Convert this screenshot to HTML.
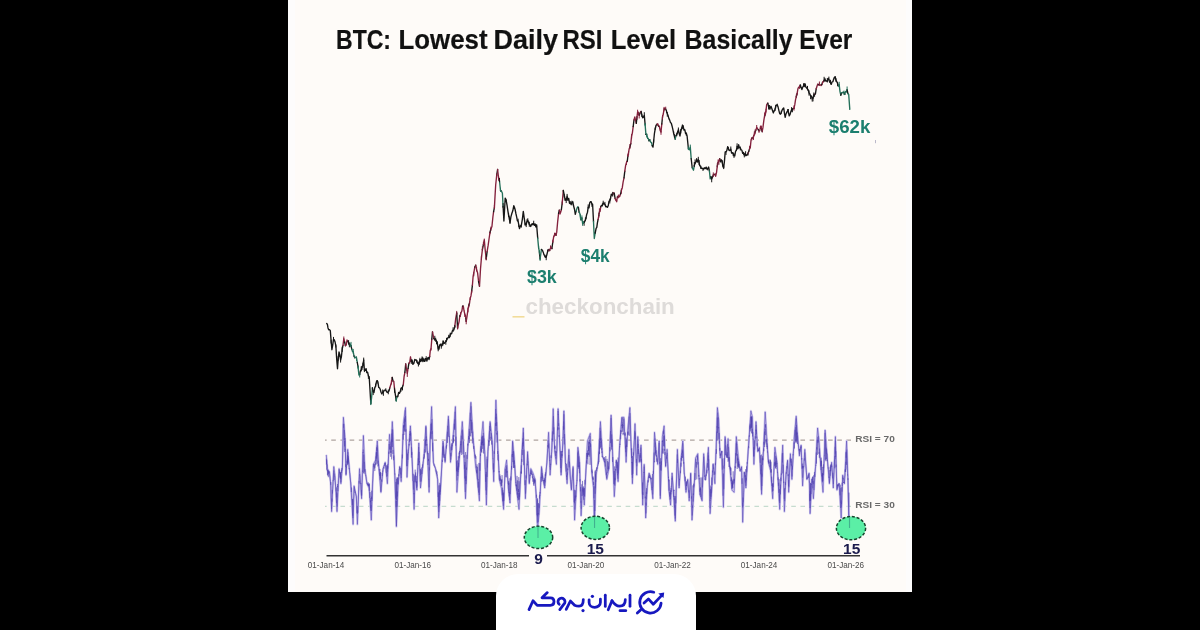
<!DOCTYPE html>
<html><head><meta charset="utf-8"><style>
html,body{margin:0;padding:0;background:#000;}
body{width:1200px;height:630px;overflow:hidden;position:relative;font-family:"Liberation Sans", sans-serif;}
svg{position:absolute;left:0;top:0;filter:blur(0.42px);}
</style></head><body>
<svg width="1200" height="630" viewBox="0 0 1200 630" font-family='"Liberation Sans", sans-serif'>
<rect x="0" y="0" width="1200" height="630" fill="#000"/>
<rect x="288" y="0" width="624" height="592" fill="#fdfcfc"/>
<rect x="295" y="0" width="611" height="592" fill="#fefbf8"/>
<rect x="496" y="574" width="200" height="90" rx="22" ry="22" fill="#ffffff"/>
<rect x="875" y="140" width="0.9" height="3.2" fill="#b4b2c4"/>
<g font-size="27.5" font-weight="bold" fill="#111" stroke="#111" stroke-width="0.2">
<text x="336" y="48.9" textLength="55" lengthAdjust="spacingAndGlyphs">BTC:</text>
<text x="398.5" y="48.9" textLength="89" lengthAdjust="spacingAndGlyphs">Lowest</text>
<text x="493.5" y="48.9" textLength="64.5" lengthAdjust="spacingAndGlyphs">Daily</text>
<text x="562.5" y="48.9" textLength="40" lengthAdjust="spacingAndGlyphs">RSI</text>
<text x="610.7" y="48.9" textLength="65.5" lengthAdjust="spacingAndGlyphs">Level</text>
<text x="684.6" y="48.9" textLength="108" lengthAdjust="spacingAndGlyphs">Basically</text>
<text x="799.3" y="48.9" textLength="53" lengthAdjust="spacingAndGlyphs">Ever</text>
</g>
<!-- watermark -->
<rect x="512.5" y="316" width="12" height="1.6" fill="#f2dc9a"/>
<text x="525.5" y="314" font-size="22.5" font-weight="bold" fill="#dedbd9" textLength="149.3" lengthAdjust="spacingAndGlyphs">checkonchain</text>
<!-- price line -->
<g fill="none" stroke-width="1.35" stroke-linejoin="round" stroke-linecap="round"><polyline points="326.7,323.5 327.4,324.4 328.0,327.9 328.7,329.8 329.5,329.6 330.3,330.6 331.1,340.6 331.9,349.7 332.7,345.1 333.5,339.4 334.3,339.9 335.1,342.0 335.9,346.5 336.7,359.1 337.5,368.7 338.2,359.3 339.0,352.0 339.8,354.8 340.6,360.0 341.4,356.8 342.2,349.2 343.0,345.4" stroke="#161616"/><polyline points="343.0,345.4 343.8,338.6 344.6,342.0" stroke="#84203c"/><polyline points="344.6,342.0 345.4,345.7" stroke="#161616"/><polyline points="345.4,345.7 346.2,344.7 347.0,341.0 347.8,341.0" stroke="#84203c"/><polyline points="347.8,341.0 348.6,342.8 349.4,345.0 350.2,344.6" stroke="#161616"/><polyline points="350.2,344.6 351.0,345.7" stroke="#24705a"/><polyline points="351.0,345.7 351.8,349.3" stroke="#161616"/><polyline points="351.8,349.3 352.5,351.6 353.2,351.5 354.0,356.0" stroke="#24705a"/><polyline points="354.0,356.0 354.8,357.7" stroke="#161616"/><polyline points="354.8,357.7 355.7,357.5 356.5,357.6 357.3,362.5" stroke="#24705a"/><polyline points="357.3,362.5 358.1,367.1" stroke="#161616"/><polyline points="358.1,367.1 358.9,375.0 359.7,374.6" stroke="#24705a"/><polyline points="359.7,374.6 360.4,370.9 361.2,370.0 362.0,367.0 362.9,365.2 363.7,360.0 364.4,370.3 365.2,370.4 366.0,368.7 366.8,372.6 367.6,372.2 368.4,376.0 369.2,376.7 370.0,390.0 370.8,403.7" stroke="#161616"/><polyline points="370.8,403.7 371.6,397.7 372.4,387.8" stroke="#24705a"/><polyline points="372.4,387.8 373.2,391.8 374.0,392.5 374.8,387.6 375.6,386.2 376.4,381.8 377.1,380.6 377.9,381.8 378.7,387.4 379.5,387.8 380.3,389.6 381.1,392.5 381.9,394.0 382.7,392.1 383.4,392.0 384.2,390.5 385.0,390.0 385.8,390.2 386.7,392.0 387.5,392.5 388.3,391.3 389.0,391.1 389.8,387.8" stroke="#161616"/><polyline points="389.8,387.8 390.6,385.2 391.4,382.8 392.2,377.5" stroke="#84203c"/><polyline points="392.2,377.5 393.0,381.0" stroke="#161616"/><polyline points="393.0,381.0 393.8,381.4 394.6,389.9" stroke="#84203c"/><polyline points="394.6,389.9 395.4,394.9 396.2,400.5" stroke="#161616"/><polyline points="396.2,400.5 397.0,396.4" stroke="#24705a"/><polyline points="397.0,396.4 397.8,396.8 398.6,392.5 399.4,393.4 400.1,391.9 400.9,389.3 401.7,387.8 402.5,387.1 403.3,384.6" stroke="#161616"/><polyline points="403.3,384.6 404.1,376.5 404.9,372.3" stroke="#84203c"/><polyline points="404.9,372.3 405.7,364.0" stroke="#161616"/><polyline points="405.7,364.0 406.5,369.1 407.3,373.5 408.1,368.4" stroke="#84203c"/><polyline points="408.1,368.4 408.9,363.2" stroke="#161616"/><polyline points="408.9,363.2 409.7,362.5 410.5,356.8 411.3,361.5" stroke="#84203c"/><polyline points="411.3,361.5 412.1,360.0 412.9,364.3 413.9,363.2 414.8,359.5 415.5,360.1 416.2,359.9 416.9,361.4 417.6,363.3 418.4,363.9 419.1,363.8 419.9,359.6 420.6,361.6 421.4,360.5 422.1,358.2 422.8,360.9 423.5,358.9 424.1,361.1 424.8,361.3 425.5,358.9 426.2,358.6 426.9,361.0 427.6,358.2 428.3,357.4 429.0,359.5 429.7,356.4" stroke="#161616"/><polyline points="429.7,356.4 430.3,350.4 431.0,349.0 431.8,339.1" stroke="#84203c"/><polyline points="431.8,339.1 432.5,331.9" stroke="#161616"/><polyline points="432.5,331.9 433.1,334.8 433.8,338.6" stroke="#84203c"/><polyline points="433.8,338.6 434.8,339.5 435.7,339.5 436.5,341.2 437.4,343.8 438.2,349.0 439.0,349.1 439.7,345.0 440.5,344.3 441.3,346.1 442.0,345.6 442.8,343.2 443.5,343.3 444.3,343.3 445.0,342.2 445.8,341.7 446.5,340.3 447.3,339.0 448.0,337.6 448.7,337.2 449.4,337.6 450.2,334.8 450.9,333.5 451.6,333.8 452.4,330.7 453.1,330.1 453.8,330.0 454.8,326.4" stroke="#161616"/><polyline points="454.8,326.4 455.7,318.6 456.7,312.9" stroke="#84203c"/><polyline points="456.7,312.9 457.6,328.0" stroke="#161616"/><polyline points="457.6,328.0 458.3,324.8 459.1,321.6 459.8,316.0" stroke="#84203c"/><polyline points="459.8,316.0 460.5,314.8" stroke="#161616"/><polyline points="460.5,314.8 461.2,312.3 461.9,310.9 462.6,306.2" stroke="#84203c"/><polyline points="462.6,306.2 463.3,306.2" stroke="#161616"/><polyline points="463.3,306.2 464.0,310.5 464.8,314.4 465.5,315.7" stroke="#84203c"/><polyline points="465.5,315.7 466.2,321.4" stroke="#161616"/><polyline points="466.2,321.4 467.1,315.8 468.0,309.0 468.8,305.5" stroke="#84203c"/><polyline points="468.8,305.5 469.5,303.1" stroke="#161616"/><polyline points="469.5,303.1 470.2,298.4 471.0,295.7 471.7,290.9" stroke="#84203c"/><polyline points="471.7,290.9 472.4,285.3" stroke="#161616"/><polyline points="472.4,285.3 473.1,276.5 473.8,272.9 474.8,267.1" stroke="#84203c"/><polyline points="474.8,267.1 475.7,265.2" stroke="#161616"/><polyline points="475.7,265.2 476.6,269.8 477.6,272.9 478.6,281.6" stroke="#84203c"/><polyline points="478.6,281.6 479.5,286.2" stroke="#161616"/><polyline points="479.5,286.2 480.5,269.0 481.4,258.2 482.4,249.5" stroke="#84203c"/><polyline points="482.4,249.5 483.4,244.6" stroke="#161616"/><polyline points="483.4,244.6 484.3,240.0 485.2,249.9 486.2,259.0" stroke="#84203c"/><polyline points="486.2,259.0 487.1,251.6" stroke="#161616"/><polyline points="487.1,251.6 488.1,245.7 489.1,238.5 490.0,232.4" stroke="#84203c"/><polyline points="490.0,232.4 490.9,228.7" stroke="#161616"/><polyline points="490.9,228.7 491.9,226.7 492.9,217.0 493.6,211.7" stroke="#84203c"/><polyline points="493.6,211.7 494.4,207.6" stroke="#161616"/><polyline points="494.4,207.6 495.0,196.6 495.7,184.8 496.7,175.2" stroke="#84203c"/><polyline points="496.7,175.2 497.6,169.5" stroke="#161616"/><polyline points="497.6,169.5 498.6,178.1" stroke="#84203c"/><polyline points="498.6,178.1 499.5,181.0" stroke="#161616"/><polyline points="499.5,181.0 500.5,190.5" stroke="#24705a"/><polyline points="500.5,190.5 501.4,191.0" stroke="#161616"/><polyline points="501.4,191.0 502.4,193.3 503.1,206.6" stroke="#24705a"/><polyline points="503.1,206.6 503.9,221.0 504.5,210.7 505.2,198.1 506.1,199.8 507.1,205.7 507.8,210.3 508.6,215.3 509.3,217.8 510.0,222.9 510.9,216.9 511.9,213.3 512.8,210.8 513.8,205.7 514.5,207.4 515.2,210.0 516.0,214.0 516.7,217.1 517.4,220.8 518.1,221.1 518.8,224.9 519.5,228.6 520.5,226.0 521.4,224.8 522.3,219.6 523.3,211.4 524.2,217.8 525.2,224.8 526.2,224.5 527.1,221.0 527.8,220.5 528.5,222.2 529.3,224.5 530.0,224.8 530.7,226.5 531.5,224.6 532.2,223.6 532.9,224.8 533.7,223.3 534.4,225.3 535.2,224.0 535.9,226.9 536.7,225.7 537.7,238.1" stroke="#161616"/><polyline points="537.7,238.1 538.6,247.6 539.4,251.9" stroke="#24705a"/><polyline points="539.4,251.9 540.1,259.0" stroke="#161616"/><polyline points="540.1,259.0 541.4,249.5" stroke="#24705a"/><polyline points="541.4,249.5 542.3,250.0 543.3,252.4 544.0,254.9 544.8,255.4 545.5,257.3 546.2,257.1 546.9,254.5 547.6,251.7 548.3,250.5" stroke="#161616"/><polyline points="548.3,250.5 549.0,249.5" stroke="#84203c"/><polyline points="549.0,249.5 549.7,250.6" stroke="#161616"/><polyline points="549.7,250.6 550.5,248.0 551.2,248.1 551.9,248.6" stroke="#84203c"/><polyline points="551.9,248.6 552.8,242.0" stroke="#161616"/><polyline points="552.8,242.0 553.8,236.2 554.5,234.9 555.2,233.9" stroke="#84203c"/><polyline points="555.2,233.9 556.0,235.2" stroke="#161616"/><polyline points="556.0,235.2 556.7,232.4 557.7,221.3 558.6,213.3" stroke="#84203c"/><polyline points="558.6,213.3 559.3,210.2" stroke="#161616"/><polyline points="559.3,210.2 560.0,213.4 560.7,212.1 561.4,209.5" stroke="#84203c"/><polyline points="561.4,209.5 562.3,202.1" stroke="#161616"/><polyline points="562.3,202.1 563.3,190.5" stroke="#84203c"/><polyline points="563.3,190.5 564.2,195.0 565.2,200.0 566.2,200.1 567.1,196.2 567.9,199.8 568.7,198.4 569.4,202.4 570.2,203.0 571.1,204.0 571.9,202.9 572.8,201.7 573.6,206.0 574.5,209.2 575.3,214.4 576.1,211.2" stroke="#161616"/><polyline points="576.1,211.2 577.0,208.1 577.8,206.8 578.4,207.4" stroke="#24705a"/><polyline points="578.4,207.4 579.1,212.2" stroke="#161616"/><polyline points="579.1,212.2 579.8,213.4 580.4,216.9 581.1,219.8" stroke="#24705a"/><polyline points="581.1,219.8 581.9,218.0" stroke="#161616"/><polyline points="581.9,218.0 582.6,223.4 583.4,223.2 584.1,222.3" stroke="#24705a"/><polyline points="584.1,222.3 584.7,221.5 585.4,219.7 586.0,217.9 586.7,214.4 587.5,212.2 588.2,207.2 589.0,207.9 589.7,202.8 590.5,201.7 591.2,201.7 591.9,204.1 592.6,204.2 593.5,221.5" stroke="#161616"/><polyline points="593.5,221.5 594.3,238.5 595.2,233.0" stroke="#24705a"/><polyline points="595.2,233.0 596.1,228.3 596.8,227.3 597.4,222.9 598.1,219.4" stroke="#161616"/><polyline points="598.1,219.4 598.8,215.6" stroke="#84203c"/><polyline points="598.8,215.6 599.4,212.0" stroke="#161616"/><polyline points="599.4,212.0 600.1,211.5 600.7,206.8" stroke="#84203c"/><polyline points="600.7,206.8 601.5,205.4 602.4,205.5 603.2,203.0 604.1,203.6 604.9,204.2 605.8,206.8 606.6,206.5 607.5,207.3 608.3,205.5 609.0,201.2 609.8,201.1 610.5,198.8 611.3,194.1 612.0,195.0 612.7,194.7" stroke="#161616"/><polyline points="612.7,194.7 613.4,192.8 614.2,193.2" stroke="#84203c"/><polyline points="614.2,193.2 615.1,198.4" stroke="#161616"/><polyline points="615.1,198.4 615.9,200.4 616.7,201.2 617.4,196.9" stroke="#84203c"/><polyline points="617.4,196.9 618.2,197.1" stroke="#161616"/><polyline points="618.2,197.1 618.9,196.3 619.7,196.6 620.6,193.8" stroke="#84203c"/><polyline points="620.6,193.8 621.4,190.3" stroke="#161616"/><polyline points="621.4,190.3 622.3,187.7 623.1,182.1 624.0,177.9" stroke="#84203c"/><polyline points="624.0,177.9 624.8,171.2" stroke="#161616"/><polyline points="624.8,171.2 625.6,165.6 626.5,162.5 627.3,161.1" stroke="#84203c"/><polyline points="627.3,161.1 627.9,156.0" stroke="#161616"/><polyline points="627.9,156.0 628.6,152.4 629.2,148.7 629.9,147.1" stroke="#84203c"/><polyline points="629.9,147.1 630.8,143.6" stroke="#161616"/><polyline points="630.8,143.6 631.6,136.0 632.4,132.8 633.2,126.5" stroke="#84203c"/><polyline points="633.2,126.5 634.0,119.9" stroke="#161616"/><polyline points="634.0,119.9 634.8,117.0 635.5,120.2 636.3,123.3" stroke="#84203c"/><polyline points="636.3,123.3 637.0,116.9" stroke="#161616"/><polyline points="637.0,116.9 637.6,112.2 638.4,113.0 639.2,115.4" stroke="#84203c"/><polyline points="639.2,115.4 640.2,112.7" stroke="#161616"/><polyline points="640.2,112.7 641.1,111.4" stroke="#84203c"/><polyline points="641.1,111.4 641.9,115.2 642.7,117.8 643.5,117.0 644.3,115.4 645.1,124.3" stroke="#161616"/><polyline points="645.1,124.3 645.9,134.4" stroke="#24705a"/><polyline points="645.9,134.4 646.7,134.6" stroke="#161616"/><polyline points="646.7,134.6 647.5,137.6 648.2,138.4 649.0,140.8" stroke="#24705a"/><polyline points="649.0,140.8 649.8,139.7" stroke="#161616"/><polyline points="649.8,139.7 650.6,142.1 651.4,142.4 652.2,145.7" stroke="#24705a"/><polyline points="652.2,145.7 653.0,147.1 653.7,140.8 654.4,133.7 655.1,129.7 656.0,125.5 657.0,124.1" stroke="#161616"/><polyline points="657.0,124.1 657.8,124.3 658.6,126.2" stroke="#84203c"/><polyline points="658.6,126.2 659.4,126.5" stroke="#161616"/><polyline points="659.4,126.5 660.2,130.5 661.0,132.1 661.8,124.0" stroke="#84203c"/><polyline points="661.8,124.0 662.5,117.0" stroke="#161616"/><polyline points="662.5,117.0 663.3,114.0 664.1,108.3 664.9,109.2" stroke="#84203c"/><polyline points="664.9,109.2 665.7,109.0 666.5,111.1 667.3,113.8 668.1,115.6 668.9,118.6 669.7,120.1 670.5,122.6 671.3,123.3 672.1,126.2 672.9,129.7 673.7,133.7 674.4,135.9 675.2,139.2" stroke="#161616"/><polyline points="675.2,139.2 676.0,135.7" stroke="#24705a"/><polyline points="676.0,135.7 676.8,134.4 677.6,132.2 678.4,129.7 679.2,133.7 680.0,136.0 680.8,130.7 681.6,128.8 682.4,125.7 683.2,126.7 684.0,130.0 684.8,129.7 685.6,133.7 686.3,133.3 687.1,136.0 688.4,148.7" stroke="#161616"/><polyline points="688.4,148.7 689.3,149.7 690.3,147.1 691.2,158.7" stroke="#24705a"/><polyline points="691.2,158.7 692.2,167.8" stroke="#161616"/><polyline points="692.2,167.8 693.5,170.2 694.3,165.6" stroke="#24705a"/><polyline points="694.3,165.6 695.1,163.0 695.9,162.0 696.7,159.7 697.5,162.0 698.3,159.8 699.1,162.6 699.8,165.8 700.6,166.2 701.4,168.3 702.2,168.5 703.0,168.6 703.8,169.2 704.6,167.8 705.4,168.6 706.2,167.1 707.0,169.4 707.8,168.6 708.6,167.0 709.4,170.8" stroke="#161616"/><polyline points="709.4,170.8 710.2,178.9 711.0,176.8" stroke="#24705a"/><polyline points="711.0,176.8 711.7,179.0 712.5,177.3 713.3,174.9" stroke="#161616"/><polyline points="713.3,174.9 714.1,174.7" stroke="#84203c"/><polyline points="714.1,174.7 714.9,174.3" stroke="#161616"/><polyline points="714.9,174.3 715.7,175.7 716.5,172.6 717.3,166.2" stroke="#84203c"/><polyline points="717.3,166.2 718.1,162.4" stroke="#161616"/><polyline points="718.1,162.4 718.9,161.4 719.7,158.8" stroke="#84203c"/><polyline points="719.7,158.8 720.5,161.8 721.3,159.8 722.1,160.8 722.9,166.6 723.7,167.8 724.5,160.6 725.2,151.9 726.0,151.8 726.8,150.7 727.6,147.1 728.4,148.5 729.2,150.5 730.0,150.3 730.8,149.1 731.6,153.1 732.4,152.7 733.2,153.8 734.0,155.8 734.8,155.9 735.6,151.0 736.3,150.6 737.1,146.3 737.9,148.7 738.7,145.4 739.5,147.9 740.3,147.9 741.1,149.8 741.9,150.3 742.7,153.3 743.5,152.4 744.3,155.1 745.0,153.8 745.6,154.3 746.3,155.5 747.1,154.7 747.9,153.9" stroke="#161616"/><polyline points="747.9,153.9 748.7,151.5" stroke="#84203c"/><polyline points="748.7,151.5 749.5,149.0" stroke="#161616"/><polyline points="749.5,149.0 750.3,147.5 751.1,139.6 751.9,138.2" stroke="#84203c"/><polyline points="751.9,138.2 752.7,137.5" stroke="#161616"/><polyline points="752.7,137.5 753.5,137.2 754.3,134.2 755.1,132.1" stroke="#84203c"/><polyline points="755.1,132.1 755.9,130.1" stroke="#161616"/><polyline points="755.9,130.1 756.7,127.5 757.5,128.5 758.2,129.7" stroke="#84203c"/><polyline points="758.2,129.7 759.0,130.9" stroke="#161616"/><polyline points="759.0,130.9 759.8,130.6 760.6,126.1 761.4,128.5" stroke="#84203c"/><polyline points="761.4,128.5 762.2,131.7" stroke="#161616"/><polyline points="762.2,131.7 763.0,127.2 763.8,120.6 764.6,115.9" stroke="#84203c"/><polyline points="764.6,115.9 765.4,114.2" stroke="#161616"/><polyline points="765.4,114.2 766.0,110.3 766.7,104.7 767.8,103.1" stroke="#84203c"/><polyline points="767.8,103.1 768.6,106.6 769.4,107.9 770.2,107.9 771.0,106.3 771.8,108.5 772.5,110.4 773.3,112.6 774.1,111.1 774.9,110.1 775.7,106.3 776.5,105.0 777.3,105.1 778.1,107.1 778.9,110.6 779.7,113.7 780.5,114.2 781.3,112.3 782.1,110.2 782.9,108.8 783.7,107.9 784.5,113.6 785.2,117.4 786.0,113.9 786.8,112.1 787.6,111.0 788.4,112.1 789.2,115.8 790.0,114.6 790.8,111.8 791.6,109.8 792.4,109.4 793.2,108.7 794.0,108.3" stroke="#161616"/><polyline points="794.0,108.3 794.8,104.7 795.5,99.8 796.3,96.7" stroke="#84203c"/><polyline points="796.3,96.7 797.1,93.7" stroke="#161616"/><polyline points="797.1,93.7 797.9,88.8 798.7,87.1 799.5,87.7" stroke="#84203c"/><polyline points="799.5,87.7 800.3,84.8 801.1,87.6 801.9,89.6 802.7,87.2 803.5,85.7 804.3,85.6 805.1,84.3 805.9,87.1 806.7,88.0 807.5,89.1 808.2,89.8 809.0,92.8 809.8,93.8 810.6,96.0 811.4,96.0 812.2,98.7 813.0,98.3 813.8,94.8 814.6,94.4" stroke="#161616"/><polyline points="814.6,94.4 815.4,93.8" stroke="#84203c"/><polyline points="815.4,93.8 816.2,88.8" stroke="#161616"/><polyline points="816.2,88.8 817.0,86.3 817.8,84.0 818.6,84.7" stroke="#84203c"/><polyline points="818.6,84.7 819.4,84.4" stroke="#161616"/><polyline points="819.4,84.4 820.2,84.8 821.0,85.5 821.7,84.7" stroke="#84203c"/><polyline points="821.7,84.7 822.5,82.5" stroke="#161616"/><polyline points="822.5,82.5 823.3,81.7 824.1,80.3" stroke="#84203c"/><polyline points="824.1,80.3 824.9,79.3 825.7,81.1 826.5,80.9 827.3,81.3 828.1,78.5 828.9,79.4 829.7,82.2 830.5,82.5 831.3,84.3 832.1,81.8 832.9,81.7 833.7,78.9 834.4,77.3 835.2,76.9 836.0,80.3 836.8,81.7 837.6,83.5 838.4,85.8" stroke="#161616"/><polyline points="838.4,85.8 839.2,84.8 840.0,91.6 840.8,95.2" stroke="#24705a"/><polyline points="840.8,95.2 841.6,92.9" stroke="#161616"/><polyline points="841.6,92.9 842.4,92.8 843.2,92.0 844.0,92.8" stroke="#24705a"/><polyline points="844.0,92.8 844.8,94.4" stroke="#161616"/><polyline points="844.8,94.4 845.6,91.4 846.3,92.1 847.1,89.6" stroke="#24705a"/><polyline points="847.1,89.6 847.9,93.6" stroke="#161616"/><polyline points="847.9,93.6 848.7,94.4 849.8,109.4" stroke="#24705a"/><path d="M331.1 340.2v2.9M333.5 337.3v2.9M335.9 344.9v2.2M338.2 356.5v3.9M339.8 355.0v1.5M340.6 360.1v2.1M342.2 347.1v4.4M348.6 340.6v3.5M349.4 342.9v4.0M361.2 366.8v4.3M362.0 366.3v3.3M362.9 363.1v4.3M363.7 358.0v2.5M364.4 369.8v1.9M366.0 369.0v1.6M368.4 375.2v3.3M373.2 391.0v3.7M375.6 384.0v2.8M377.1 380.4v2.9M382.7 389.9v2.7M383.4 390.9v4.5M385.8 388.7v1.8M388.3 390.0v3.9M394.6 388.1v4.3M400.9 388.1v3.4M402.5 386.0v4.0M411.3 359.7v3.8M416.9 360.3v2.0M418.4 362.5v3.6M419.1 361.7v2.9M419.9 358.2v1.9M420.6 359.4v2.1M422.1 356.8v3.3M422.8 357.6v4.2M424.1 358.8v2.7M425.5 358.4v1.6M426.2 356.6v3.1M434.8 336.2v4.2M435.7 338.2v3.2M436.5 340.4v3.4M437.4 341.8v2.8M438.2 346.5v4.4M441.3 343.9v4.4M442.8 340.9v4.5M443.5 341.0v2.9M445.8 340.5v3.8M446.5 338.2v3.1M448.7 335.2v2.3M450.2 333.1v3.3M453.1 327.7v3.8M454.8 325.3v2.4M499.5 178.3v3.5M503.1 203.5v3.9M504.5 210.9v2.0M506.1 200.0v1.8M508.6 213.3v3.4M509.3 216.8v2.5M510.0 220.7v2.7M518.1 219.1v1.8M518.8 225.1v1.6M521.4 224.3v2.9M525.2 223.0v2.0M526.2 224.0v2.7M527.1 219.3v2.3M527.8 218.7v2.4M529.3 222.1v4.3M533.7 221.1v3.5M535.9 224.7v2.1M536.7 224.6v1.7M544.8 255.2v1.7M546.2 256.7v3.1M547.6 249.8v1.8M564.2 194.3v2.8M565.2 198.6v1.8M566.2 198.9v3.8M567.1 194.3v1.9M567.9 198.7v1.8M569.4 202.0v1.7M570.2 201.4v2.1M571.1 203.0v1.8M571.9 201.1v3.8M584.1 221.3v4.1M585.4 217.9v2.8M586.0 217.4v1.5M588.2 204.8v3.1M591.9 203.9v2.5M602.4 203.9v2.1M603.2 201.1v3.2M604.9 202.3v2.6M609.8 199.1v4.0M610.5 196.8v2.0M612.7 192.3v3.9M641.9 114.8v1.8M644.3 112.6v4.2M653.7 139.9v2.3M655.1 128.0v1.6M666.5 110.4v2.0M667.3 112.5v3.8M673.7 131.8v1.8M674.4 134.5v2.6M676.8 133.1v2.7M677.6 131.5v1.9M678.4 127.9v3.6M680.8 129.3v3.8M681.6 127.8v1.9M682.4 124.8v3.7M683.2 125.5v2.4M686.3 132.9v2.5M694.3 162.4v4.3M695.1 159.8v3.9M696.7 158.4v1.5M698.3 157.2v3.1M699.1 160.3v4.4M700.6 166.1v2.3M703.0 167.9v2.7M707.8 168.4v1.6M711.7 177.4v4.5M722.1 160.7v2.2M723.7 166.6v2.1M724.5 158.4v3.8M726.0 151.4v3.1M727.6 146.5v1.8M728.4 147.2v2.6M730.8 146.9v3.2M733.2 152.8v2.9M734.0 153.7v3.8M737.1 143.7v3.0M737.9 146.3v2.5M738.7 144.4v2.9M740.3 146.9v3.1M743.5 152.4v2.0M744.3 154.2v2.8M745.6 151.6v4.3M747.9 152.7v2.6M768.6 105.7v3.4M769.4 105.4v3.8M770.2 107.7v1.5M773.3 111.0v2.1M774.9 108.9v1.8M775.7 105.2v2.8M777.3 104.1v1.9M781.3 111.1v2.3M787.6 109.5v1.8M788.4 109.4v4.2M791.6 107.5v3.8M792.4 108.5v3.4M803.5 83.7v2.7M804.3 83.5v3.2M805.1 83.8v3.0M807.5 86.3v3.8M809.0 90.7v4.5M810.6 95.6v3.2M812.2 98.2v3.0M813.0 97.6v3.4M813.8 92.9v3.9M814.6 94.6v1.7M824.1 77.2v4.5M824.9 78.3v1.8M827.3 78.5v3.6M828.9 77.0v2.6M830.5 80.2v3.8M835.2 76.6v2.5M836.0 78.7v2.8M837.6 82.4v3.5" stroke="#161616" stroke-width="1"/><path d="M343.8 336.9v4.3M346.2 342.7v2.6M347.0 339.7v1.7M391.4 380.5v3.6M407.3 372.5v4.0M431.0 348.3v1.9M456.7 311.3v3.7M457.6 326.8v2.3M460.5 312.7v3.8M464.8 313.9v2.7M465.5 315.3v2.4M466.2 319.9v4.0M468.0 308.1v3.8M468.8 304.2v2.9M470.2 297.6v2.0M471.7 290.6v2.2M473.8 272.2v3.7M476.6 267.1v4.0M480.5 268.8v2.4M481.4 256.3v3.3M482.4 246.7v3.4M483.4 242.2v2.6M484.3 239.0v3.2M486.2 257.2v2.8M490.0 232.0v1.7M490.9 227.0v3.4M494.4 205.4v3.2M496.7 173.8v2.2M498.6 176.7v3.6M550.5 245.8v2.2M551.2 246.7v1.7M552.8 240.1v1.7M554.5 233.1v3.0M556.0 233.0v2.4M560.0 212.7v1.6M562.3 201.0v3.4M598.8 213.4v3.9M599.4 208.7v4.4M616.7 200.5v1.5M618.2 195.3v2.7M618.9 194.8v2.4M621.4 188.9v4.4M626.5 161.3v3.3M627.9 154.1v1.7M628.6 151.5v3.2M629.9 144.4v4.3M631.6 134.5v3.8M637.0 116.4v3.1M637.6 110.1v4.4M638.4 112.0v1.5M639.2 114.6v3.5M657.8 123.5v2.1M661.0 131.4v3.0M662.5 115.3v4.1M664.1 107.3v3.6M665.7 107.1v2.1M713.3 172.8v3.8M715.7 173.8v2.8M717.3 163.5v3.5M718.1 159.9v2.9M718.9 160.2v4.2M719.7 158.8v1.6M749.5 146.5v2.9M750.3 145.4v2.5M751.9 137.7v2.3M753.5 135.5v4.0M754.3 131.9v3.4M755.1 129.9v4.1M756.7 125.4v1.9M759.0 130.9v1.6M761.4 126.0v3.3M764.6 112.8v4.3M765.4 111.4v3.6M766.0 109.2v2.9M794.0 105.8v4.4M796.3 94.9v2.7M797.1 93.3v1.7M799.5 85.7v2.4M819.4 81.9v3.7M822.5 81.9v2.1" stroke="#84203c" stroke-width="1"/><path d="M350.2 343.6v2.9M351.0 342.3v4.4M353.2 349.3v3.9M354.8 356.1v1.6M356.5 356.7v3.8M358.1 365.9v2.6M359.7 373.4v3.7M370.8 400.5v4.2M396.2 398.3v3.1M500.5 188.2v3.3M538.6 246.3v2.4M539.4 250.6v3.7M540.1 258.3v2.2M580.4 214.6v3.9M581.1 218.2v1.7M581.9 215.8v3.5M582.6 221.6v3.8M583.4 221.5v1.7M645.1 123.4v2.3M646.7 133.6v3.4M647.5 136.9v1.7M688.4 146.7v2.8M690.3 145.0v2.3M839.2 82.2v4.3M844.0 91.0v3.7M847.1 86.9v3.0" stroke="#24705a" stroke-width="1"/></g>
<!-- annotations -->
<g font-size="18" font-weight="bold" fill="#1c7f6f">
<text x="527" y="282.5" textLength="29.7" lengthAdjust="spacingAndGlyphs">$3k</text>
<text x="580.8" y="262" textLength="28.8" lengthAdjust="spacingAndGlyphs">$4k</text>
<text x="828.8" y="133.3" font-size="18.5" textLength="41.5" lengthAdjust="spacingAndGlyphs">$62k</text>
</g>
<!-- RSI guide lines -->
<line x1="325" y1="440.2" x2="851" y2="440.2" stroke="#aea49f" stroke-width="1.2" stroke-dasharray="4.6,4.6" stroke-dashoffset="2.95"/>
<line x1="325" y1="506.4" x2="851" y2="506.4" stroke="#c6dccf" stroke-width="1.2" stroke-dasharray="4.6,4.6" stroke-dashoffset="2.95"/>
<g fill="none" stroke="#5949c6" stroke-width="1.0" stroke-linejoin="round"><polyline points="326.3,454.8 327.4,468.7 329.5,472.0 330.6,483.7 331.6,511.6 333.8,466.6 334.9,475.1 337.0,511.6 339.1,468.7 340.9,483.7 342.4,466.6 343.4,417.3 345.1,438.7 346.0,475.1 347.7,449.4 349.4,468.7 350.9,485.9 353.1,524.4 354.1,485.9 356.3,496.6 357.4,524.4 359.5,468.7 361.6,498.7 363.4,435.5 364.9,468.7 367.0,483.7 369.1,488.0 371.3,520.1 373.4,464.4 375.6,460.1 377.3,440.9 378.8,466.6 380.9,492.3 383.1,468.7 385.2,462.3 387.4,483.7 389.5,434.4 391.0,449.4 392.3,421.6 393.8,451.6 394.9,479.4 396.4,526.6 398.0,488.0 399.7,466.6 401.2,481.6 403.4,423.7 405.5,407.6 407.0,477.3 408.7,447.3 410.4,425.9 411.9,453.7 414.1,509.4 415.1,475.1 416.9,490.1 418.8,443.0 420.5,488.0 422.6,468.7 424.1,453.7 425.9,425.9 427.6,458.0 429.1,492.3 430.1,440.9 431.6,406.6 433.4,462.3 435.5,468.7 437.6,479.4 438.7,518.0 440.9,483.7 443.0,440.9 445.1,462.3 446.9,436.6 448.4,416.2 450.5,462.3 452.6,443.0 455.4,406.6 456.9,492.3 459.1,462.3 462.3,421.6 463.4,440.9 465.5,498.7 467.6,451.6 470.9,402.3 473.0,436.6 475.7,466.6 477.2,477.3 479.4,500.9 480.4,451.6 483.0,421.6 484.7,451.6 486.4,505.1 487.9,451.6 490.1,421.6 492.2,440.9 493.7,481.6 495.9,400.1 497.6,440.9 499.3,479.4 501.4,488.0 503.6,509.4 505.1,468.7 506.6,460.1 508.3,488.0 510.0,503.0 512.6,440.9 514.3,458.0 515.8,483.7 519.0,509.4 520.7,475.1 523.3,428.0 525.4,498.7 527.6,451.6 529.3,483.7 530.8,468.7 532.9,473.0 535.1,479.4 536.1,494.4 537.6,530.4 539.4,509.4 541.5,466.6 543.0,479.4 544.7,488.0 546.9,462.3 548.6,432.3 550.1,475.1 551.7,451.6 553.2,408.7 554.7,451.6 556.4,464.4 558.1,408.7 559.6,440.9 561.1,475.1 562.9,440.9 563.9,410.9 565.4,462.3 567.1,483.7 568.9,449.4 570.4,479.4 571.4,490.1 573.1,466.6 574.6,520.1 576.8,481.6 577.9,447.3 579.6,462.3 581.1,515.8 582.6,488.0 584.3,505.1 586.0,468.7 587.5,440.9 590.3,433.4 591.8,473.0 593.5,488.0 594.4,527.6 596.1,475.1 598.2,462.3 600.4,421.6 602.5,455.9 604.6,462.3 606.8,479.4 608.9,468.7 611.1,415.1 612.6,451.6 614.3,496.6 616.4,462.3 618.1,481.6 619.6,445.1 621.8,417.3 623.9,417.3 626.1,462.3 627.7,430.1 629.9,407.6 631.4,453.7 632.4,483.7 635.0,423.7 636.7,475.1 637.8,436.6 639.3,462.3 641.0,445.1 642.7,505.1 644.2,464.4 645.7,518.0 647.4,483.7 649.1,473.0 650.6,477.3 652.8,498.7 654.5,432.3 656.0,449.4 657.7,464.4 659.2,440.9 660.3,498.7 662.4,436.6 664.1,425.9 665.6,466.6 667.1,449.4 668.9,490.1 670.6,505.1 672.1,473.0 673.6,496.6 675.3,521.2 677.4,449.4 679.1,488.0 681.3,455.9 682.8,440.9 684.3,473.0 686.0,492.3 687.7,479.4 689.2,500.9 690.7,473.0 692.0,520.1 693.5,498.7 695.6,458.0 697.8,453.7 699.9,494.4 702.1,500.9 703.7,453.7 705.2,479.4 706.7,470.9 708.4,447.3 710.1,513.7 711.6,492.3 713.1,464.4 714.9,483.7 717.4,407.6 718.7,419.4 720.2,458.0 721.7,451.6 723.4,507.3 725.1,436.6 726.6,455.9 728.1,438.7 729.9,468.7 732.0,490.1 734.1,492.3 736.3,436.6 738.4,458.0 740.1,470.9 741.6,466.6 742.7,522.3 744.4,473.0 745.9,488.0 748.1,451.6 750.9,410.9 752.4,417.3 753.9,464.4 756.0,421.6 757.7,451.6 759.4,447.3 761.6,494.4 763.1,458.0 765.2,411.9 766.7,436.6 768.4,462.3 770.6,470.9 772.7,498.7 774.9,447.3 777.0,462.3 778.0,479.4 779.7,509.4 781.2,475.1 782.7,445.1 784.4,511.6 786.1,473.0 787.6,460.1 788.7,492.3 790.4,453.7 791.9,479.4 794.1,438.7 796.2,416.2 797.7,436.6 799.4,455.9 801.1,445.1 802.6,485.9 804.8,449.4 806.9,479.4 809.1,473.0 810.1,513.7 811.9,479.4 813.4,498.7 815.5,466.6 817.6,428.0 819.1,440.9 820.9,468.7 823.0,492.3 825.1,430.1 827.3,458.0 829.4,483.7 831.6,462.3 833.3,488.0 835.4,436.6 836.9,490.1 839.1,483.7 841.2,518.0 842.7,475.1 844.4,483.7 846.6,440.9 847.6,468.7 849.1,527.6" stroke="#d2ccef" stroke-width="2.2"/><polyline points="326.30,465.0 326.43,458.7 326.55,464.1 326.68,459.9 326.80,469.9 326.93,467.5 327.05,464.4 327.18,471.2 327.30,470.0 327.43,474.9 327.55,469.6 327.68,470.4 327.80,475.2 327.93,475.8 328.05,472.7 328.18,470.7 328.30,477.2 328.43,473.7 328.55,470.8 328.68,473.8 328.80,472.3 328.93,471.5 329.05,472.3 329.18,472.2 329.30,471.9 329.43,473.5 329.55,475.6 329.68,475.5 329.80,476.6 329.93,476.5 330.05,478.4 330.18,479.2 330.30,479.8 330.43,481.0 330.55,481.7 330.68,484.8 330.80,482.0 330.93,486.2 331.05,487.3 331.18,497.4 331.30,499.5 331.43,503.4 331.55,509.0 331.68,505.9 331.80,504.5 331.93,498.6 332.05,501.6 332.18,495.4 332.30,489.9 332.43,493.5 332.55,489.6 332.68,488.6 332.80,485.7 332.93,484.5 333.05,482.7 333.18,480.1 333.30,480.7 333.43,479.3 333.55,475.8 333.68,470.5 333.80,470.5 333.93,472.3 334.05,480.1 334.18,473.5 334.30,475.3 334.43,476.3 334.55,476.1 334.68,476.1 334.80,476.4 334.93,476.5 335.05,480.8 335.18,481.9 335.30,482.1 335.43,484.9 335.55,485.9 335.68,486.4 335.80,487.3 335.93,488.4 336.05,491.2 336.18,491.4 336.30,487.4 336.43,495.4 336.55,503.1 336.68,491.7 336.80,497.3 336.93,494.6 337.05,493.3 337.18,506.7 337.30,485.8 337.43,484.0 337.55,486.9 337.68,486.0 337.80,488.6 337.93,491.2 338.05,488.9 338.18,486.6 338.30,480.6 338.43,478.4 338.55,478.1 338.68,474.5 338.80,474.6 338.93,472.1 339.05,470.6 339.18,469.6 339.30,470.4 339.43,470.7 339.55,471.9 339.68,473.3 339.80,471.9 339.93,475.4 340.05,476.5 340.18,476.0 340.30,478.2 340.43,472.1 340.55,479.1 340.68,473.2 340.80,473.1 340.93,482.2 341.05,480.8 341.18,480.3 341.30,470.6 341.43,471.5 341.55,473.0 341.68,469.6 341.80,471.1 341.93,468.0 342.05,469.7 342.18,469.1 342.30,467.3 342.43,465.5 342.55,462.6 342.68,458.0 342.80,453.9 342.93,451.6 343.05,448.2 343.18,443.8 343.30,423.9 343.43,423.8 343.55,427.7 343.68,426.4 343.80,423.9 343.93,424.6 344.05,431.2 344.18,440.1 344.30,430.1 344.43,431.9 344.55,446.4 344.68,441.0 344.80,452.0 344.93,443.8 345.05,438.1 345.18,450.2 345.30,449.4 345.43,452.1 345.55,460.7 345.68,462.1 345.80,467.0 345.93,464.2 346.05,474.1 346.18,471.7 346.30,467.0 346.43,467.7 346.55,465.2 346.68,464.9 346.80,464.9 346.93,464.2 347.05,461.3 347.18,462.6 347.30,459.6 347.43,463.7 347.55,454.8 347.68,465.1 347.80,464.3 347.93,452.1 348.05,461.9 348.18,456.2 348.30,463.6 348.43,457.8 348.55,462.0 348.68,462.1 348.80,464.6 348.93,466.3 349.05,468.7 349.18,469.3 349.30,468.0 349.43,470.1 349.55,473.0 349.68,473.0 349.80,473.6 349.93,475.0 350.05,476.2 350.18,477.4 350.30,478.1 350.43,480.0 350.55,481.0 350.68,481.8 350.80,482.0 350.93,484.1 351.05,488.4 351.18,490.4 351.30,492.0 351.43,490.6 351.55,487.6 351.68,488.3 351.80,493.7 351.93,499.8 352.05,500.5 352.18,501.5 352.30,505.0 352.43,504.4 352.55,498.9 352.68,515.6 352.80,499.4 352.93,518.1 353.05,513.5 353.18,512.2 353.30,509.2 353.43,500.9 353.55,498.0 353.68,497.3 353.80,497.3 353.93,492.3 354.05,489.2 354.18,488.2 354.30,487.2 354.43,489.1 354.55,490.5 354.68,489.8 354.80,490.6 354.93,492.8 355.05,492.3 355.18,491.5 355.30,492.5 355.43,492.5 355.55,493.0 355.68,494.1 355.80,494.3 355.93,495.0 356.05,495.4 356.18,495.8 356.30,495.9 356.43,498.5 356.55,501.1 356.68,504.2 356.80,506.9 356.93,512.1 357.05,513.2 357.18,506.1 357.30,507.4 357.43,514.2 357.55,510.3 357.68,511.5 357.80,512.8 357.93,509.5 358.05,504.5 358.18,501.7 358.30,500.4 358.43,496.5 358.55,492.5 358.68,489.1 358.80,486.7 358.93,485.2 359.05,480.9 359.18,483.6 359.30,479.8 359.43,477.5 359.55,476.5 359.68,474.1 359.80,475.5 359.93,476.1 360.05,476.8 360.18,479.1 360.30,480.4 360.43,482.0 360.55,483.7 360.68,484.0 360.80,483.7 360.93,483.6 361.05,483.1 361.18,491.4 361.30,493.6 361.43,495.5 361.55,490.0 361.68,495.5 361.80,488.7 361.93,484.6 362.05,482.4 362.18,480.3 362.30,479.0 362.43,470.6 362.55,471.7 362.68,464.9 362.80,462.6 362.93,452.4 363.05,452.1 363.18,453.0 363.30,449.5 363.43,469.5 363.55,469.9 363.68,472.9 363.80,454.6 363.93,464.6 364.05,473.8 364.18,467.3 364.30,461.8 364.43,464.1 364.55,469.4 364.68,469.9 364.80,471.7 364.93,469.1 365.05,472.8 365.18,473.9 365.30,474.7 365.43,475.6 365.55,475.6 365.68,475.4 365.80,475.4 365.93,476.9 366.05,477.0 366.18,478.8 366.30,480.4 366.43,480.5 366.55,481.2 366.68,481.8 366.80,482.5 366.93,483.0 367.05,483.6 367.18,483.4 367.30,483.9 367.43,484.5 367.55,484.4 367.68,485.0 367.80,484.9 367.93,483.2 368.05,485.2 368.18,482.3 368.30,485.9 368.43,484.6 368.55,486.2 368.68,484.7 368.80,485.0 368.93,486.4 369.05,483.7 369.18,485.9 369.30,490.8 369.43,484.6 369.55,483.6 369.68,491.0 369.80,497.8 369.93,497.8 370.05,492.1 370.18,495.8 370.30,499.2 370.43,502.3 370.55,500.5 370.68,508.3 370.80,498.0 370.93,510.7 371.05,505.1 371.18,505.7 371.30,510.9 371.43,507.6 371.55,496.7 371.68,499.0 371.80,490.7 371.93,501.0 372.05,500.0 372.18,489.3 372.30,485.9 372.43,483.4 372.55,481.2 372.68,481.2 372.80,478.6 372.93,476.9 373.05,473.8 373.18,473.3 373.30,471.0 373.43,466.2 373.55,465.3 373.68,464.1 373.80,464.6 373.93,466.9 374.05,463.6 374.18,466.4 374.30,468.5 374.43,464.3 374.55,469.4 374.68,470.8 374.80,471.0 374.93,470.9 375.05,466.5 375.18,467.4 375.30,462.7 375.43,462.7 375.55,465.5 375.68,460.4 375.80,460.8 375.93,458.9 376.05,456.4 376.18,464.6 376.30,452.3 376.43,458.5 376.55,452.0 376.68,456.4 376.80,447.1 376.93,451.0 377.05,448.1 377.18,463.7 377.30,445.4 377.43,450.2 377.55,456.7 377.68,458.1 377.80,459.7 377.93,466.4 378.05,466.4 378.18,461.0 378.30,460.7 378.43,465.5 378.55,464.3 378.68,465.5 378.80,466.7 378.93,468.0 379.05,469.6 379.18,470.3 379.30,469.4 379.43,474.2 379.55,473.6 379.68,475.6 379.80,476.0 379.93,468.9 380.05,477.5 380.18,480.2 380.30,472.4 380.43,478.6 380.55,472.2 380.68,480.1 380.80,486.7 380.93,491.5 381.05,488.7 381.18,487.0 381.30,481.3 381.43,480.8 381.55,479.4 381.68,479.8 381.80,481.8 381.93,479.1 382.05,472.8 382.18,473.7 382.30,476.1 382.43,475.0 382.55,471.0 382.68,470.7 382.80,471.5 382.93,470.5 383.05,469.3 383.18,468.8 383.30,468.4 383.43,468.0 383.55,467.6 383.68,467.2 383.80,467.3 383.93,468.6 384.05,466.7 384.18,466.1 384.30,465.4 384.43,465.9 384.55,464.7 384.68,464.5 384.80,463.6 384.93,463.2 385.05,465.2 385.18,463.0 385.30,464.3 385.43,466.4 385.55,466.3 385.68,466.4 385.80,466.4 385.93,466.7 386.05,468.8 386.18,471.1 386.30,472.9 386.43,465.3 386.55,470.0 386.68,470.8 386.80,476.7 386.93,472.2 387.05,472.6 387.18,476.3 387.30,474.8 387.43,464.6 387.55,471.8 387.68,466.1 387.80,468.6 387.93,466.8 388.05,463.9 388.18,464.4 388.30,460.1 388.43,458.8 388.55,456.6 388.68,454.9 388.80,451.7 388.93,454.1 389.05,447.8 389.18,444.0 389.30,444.8 389.43,447.9 389.55,449.5 389.68,445.4 389.80,442.9 389.93,441.6 390.05,441.8 390.18,452.7 390.30,447.2 390.43,446.3 390.55,453.5 390.68,456.8 390.80,453.2 390.93,450.8 391.05,452.9 391.18,450.0 391.30,443.4 391.43,443.3 391.55,439.4 391.68,459.4 391.80,433.7 391.93,433.5 392.05,442.1 392.18,429.3 392.30,447.0 392.43,436.7 392.55,435.2 392.68,429.6 392.80,448.9 392.93,454.0 393.05,449.9 393.18,452.0 393.30,453.3 393.43,457.4 393.55,457.0 393.68,460.2 393.80,455.4 393.93,455.5 394.05,461.0 394.18,461.5 394.30,465.0 394.43,467.0 394.55,469.1 394.68,473.6 394.80,474.4 394.93,473.6 395.05,477.6 395.18,481.5 395.30,488.1 395.43,491.9 395.55,497.3 395.68,498.6 395.80,492.2 395.93,481.9 396.05,507.2 396.18,501.0 396.30,512.6 396.43,526.0 396.55,478.9 396.68,500.0 396.80,477.4 396.93,477.5 397.05,506.9 397.18,499.4 397.30,491.5 397.43,496.5 397.55,477.5 397.68,482.0 397.80,484.4 397.93,477.7 398.05,481.4 398.18,484.3 398.30,482.8 398.43,480.5 398.55,476.6 398.68,474.3 398.80,475.7 398.93,476.2 399.05,473.5 399.18,472.4 399.30,469.1 399.43,469.7 399.55,467.8 399.68,466.8 399.80,466.9 399.93,467.6 400.05,469.5 400.18,468.3 400.30,468.1 400.43,471.1 400.55,473.6 400.68,474.3 400.80,471.6 400.93,468.3 401.05,472.2 401.18,478.0 401.30,474.8 401.43,475.0 401.55,471.1 401.68,466.3 401.80,463.9 401.93,462.5 402.05,460.2 402.18,458.2 402.30,454.5 402.43,458.4 402.55,457.2 402.68,446.5 402.80,444.0 402.93,439.7 403.05,433.9 403.18,439.7 403.30,429.1 403.43,425.3 403.55,427.6 403.68,425.5 403.80,432.6 403.93,435.0 404.05,425.3 404.18,426.4 404.30,430.8 404.43,417.5 404.55,418.5 404.68,426.5 404.80,419.2 404.93,431.9 405.05,416.5 405.18,410.3 405.30,415.6 405.43,421.7 405.55,415.9 405.68,425.6 405.80,431.5 405.93,429.3 406.05,433.9 406.18,440.6 406.30,444.7 406.43,445.5 406.55,446.3 406.68,460.3 406.80,466.2 406.93,449.5 407.05,452.3 407.18,466.2 407.30,460.1 407.43,453.6 407.55,456.7 407.68,458.7 407.80,459.9 407.93,457.1 408.05,455.6 408.18,452.6 408.30,453.0 408.43,451.1 408.55,449.9 408.68,448.3 408.80,447.8 408.93,446.8 409.05,444.0 409.18,445.5 409.30,443.0 409.43,438.6 409.55,441.8 409.68,439.6 409.80,433.9 409.93,435.1 410.05,431.2 410.18,441.0 410.30,440.8 410.43,430.9 410.55,435.6 410.68,432.7 410.80,434.9 410.93,441.6 411.05,444.3 411.18,443.8 411.30,457.7 411.43,447.2 411.55,448.4 411.68,455.0 411.80,452.1 411.93,456.9 412.05,458.6 412.18,461.3 412.30,464.3 412.43,466.4 412.55,468.4 412.68,472.0 412.80,475.0 412.93,475.2 413.05,481.2 413.18,473.8 413.30,476.3 413.43,489.6 413.55,480.9 413.68,487.8 413.80,492.1 413.93,494.2 414.05,493.0 414.18,503.2 414.30,499.2 414.43,495.9 414.55,476.4 414.68,477.5 414.80,482.3 414.93,480.9 415.05,476.2 415.18,469.6 415.30,476.7 415.43,475.6 415.55,474.1 415.68,472.4 415.80,478.3 415.93,481.1 416.05,482.2 416.18,476.1 416.30,481.8 416.43,483.1 416.55,481.8 416.68,488.1 416.80,481.2 416.93,486.7 417.05,482.2 417.18,481.8 417.30,479.1 417.43,475.5 417.55,474.0 417.68,471.7 417.80,468.7 417.93,468.8 418.05,463.9 418.18,465.3 418.30,458.2 418.43,464.8 418.55,453.7 418.68,447.0 418.80,460.4 418.93,457.0 419.05,451.9 419.18,460.9 419.30,462.5 419.43,461.0 419.55,463.9 419.68,469.7 419.80,469.6 419.93,471.7 420.05,475.7 420.18,475.4 420.30,481.7 420.43,468.8 420.55,470.7 420.68,475.0 420.80,471.1 420.93,469.8 421.05,474.7 421.18,481.5 421.30,474.1 421.43,473.6 421.55,470.9 421.68,467.5 421.80,473.4 421.93,474.0 422.05,473.0 422.18,469.8 422.30,469.5 422.43,464.4 422.55,467.9 422.68,467.6 422.80,466.2 422.93,464.2 423.05,462.9 423.18,461.7 423.30,461.6 423.43,460.9 423.55,460.1 423.68,458.3 423.80,457.2 423.93,459.0 424.05,458.3 424.18,454.0 424.30,457.5 424.43,456.0 424.55,454.6 424.68,449.3 424.80,453.3 424.93,452.0 425.05,447.8 425.18,438.8 425.30,445.6 425.43,441.1 425.55,440.1 425.68,452.3 425.80,436.9 425.93,427.3 426.05,438.5 426.18,436.5 426.30,439.6 426.43,440.7 426.55,438.9 426.68,445.6 426.80,444.0 426.93,445.9 427.05,447.8 427.18,450.1 427.30,451.6 427.43,454.3 427.55,451.7 427.68,451.4 427.80,453.1 427.93,465.0 428.05,461.5 428.18,456.2 428.30,453.1 428.43,461.1 428.55,458.9 428.68,477.3 428.80,479.9 428.93,479.6 429.05,487.4 429.18,484.3 429.30,467.3 429.43,470.4 429.55,462.5 429.68,462.0 429.80,454.9 429.93,449.9 430.05,443.6 430.18,442.9 430.30,437.1 430.43,435.3 430.55,431.7 430.68,432.1 430.80,438.5 430.93,433.9 431.05,424.0 431.18,439.3 431.30,422.7 431.43,428.1 431.55,430.4 431.68,427.5 431.80,426.3 431.93,419.1 432.05,433.9 432.18,431.2 432.30,439.8 432.43,443.6 432.55,451.3 432.68,442.7 432.80,446.6 432.93,452.6 433.05,453.1 433.18,456.2 433.30,459.2 433.43,462.9 433.55,463.8 433.68,464.1 433.80,465.4 433.93,465.1 434.05,465.1 434.18,464.7 434.30,465.5 434.43,466.0 434.55,466.5 434.68,466.2 434.80,466.6 434.93,467.0 435.05,467.3 435.18,467.6 435.30,468.0 435.43,468.0 435.55,468.7 435.68,468.9 435.80,469.3 435.93,470.8 436.05,471.3 436.18,470.5 436.30,472.2 436.43,472.2 436.55,474.0 436.68,473.9 436.80,474.0 436.93,471.4 437.05,475.2 437.18,475.3 437.30,474.6 437.43,476.7 437.55,478.2 437.68,479.7 437.80,483.2 437.93,485.6 438.05,494.4 438.18,497.0 438.30,491.9 438.43,507.3 438.55,493.1 438.68,503.5 438.80,512.1 438.93,485.4 439.05,488.0 439.18,505.5 439.30,504.1 439.43,505.4 439.55,490.2 439.68,500.9 439.80,482.8 439.93,491.4 440.05,494.6 440.18,484.7 440.30,491.8 440.43,489.8 440.55,485.0 440.68,482.6 440.80,479.3 440.93,477.7 441.05,476.9 441.18,476.2 441.30,475.1 441.43,471.7 441.55,470.3 441.68,468.3 441.80,467.3 441.93,463.4 442.05,461.5 442.18,459.8 442.30,460.3 442.43,461.5 442.55,462.0 442.68,454.4 442.80,446.5 442.93,455.1 443.05,442.7 443.18,457.8 443.30,448.6 443.43,445.6 443.55,449.7 443.68,451.0 443.80,453.0 443.93,454.6 444.05,456.7 444.18,455.2 444.30,454.4 444.43,456.3 444.55,457.8 444.68,457.5 444.80,457.2 444.93,456.9 445.05,460.5 445.18,461.2 445.30,458.2 445.43,456.8 445.55,453.9 445.68,453.9 445.80,452.3 445.93,451.0 446.05,449.4 446.18,449.2 446.30,445.9 446.43,448.5 446.55,445.2 446.68,446.2 446.80,443.2 446.93,437.2 447.05,435.7 447.18,434.1 447.30,433.7 447.43,431.7 447.55,442.9 447.68,434.2 447.80,425.8 447.93,427.2 448.05,429.9 448.18,436.6 448.30,436.5 448.43,419.1 448.55,420.1 448.68,423.7 448.80,426.3 448.93,433.4 449.05,435.2 449.18,437.1 449.30,436.3 449.43,438.8 449.55,440.9 449.68,443.3 449.80,443.9 449.93,446.0 450.05,449.0 450.18,451.7 450.30,453.9 450.43,454.5 450.55,455.1 450.68,459.7 450.80,453.1 450.93,456.3 451.05,449.8 451.18,446.6 451.30,450.6 451.43,444.4 451.55,443.3 451.68,444.3 451.80,450.0 451.93,445.0 452.05,444.6 452.18,446.3 452.30,443.8 452.43,443.8 452.55,443.7 452.68,443.1 452.80,443.7 452.93,440.1 453.05,438.5 453.18,435.6 453.30,435.2 453.43,443.0 453.55,438.2 453.68,441.8 453.80,435.1 453.93,436.7 454.05,433.3 454.18,429.8 454.30,423.8 454.43,428.7 454.55,422.9 454.68,419.3 454.80,430.0 454.93,428.0 455.05,412.0 455.18,411.7 455.30,414.1 455.43,418.1 455.55,420.1 455.68,427.9 455.80,445.7 455.93,436.7 456.05,445.3 456.18,448.4 456.30,449.0 456.43,460.7 456.55,471.4 456.68,461.2 456.80,470.9 456.93,467.9 457.05,480.5 457.18,467.8 457.30,462.9 457.43,460.3 457.55,469.9 457.68,474.7 457.80,476.0 457.93,466.4 458.05,472.2 458.18,469.3 458.30,456.2 458.43,470.0 458.55,462.8 458.68,467.3 458.80,465.0 458.93,463.0 459.05,452.5 459.18,454.5 459.30,458.2 459.43,454.1 459.55,451.0 459.68,454.0 459.80,453.2 459.93,451.8 460.05,450.8 460.18,451.5 460.30,450.6 460.43,446.8 460.55,446.7 460.68,444.1 460.80,445.1 460.93,441.2 461.05,452.6 461.18,443.8 461.30,435.6 461.43,444.2 461.55,445.2 461.68,455.0 461.80,449.6 461.93,440.6 462.05,431.4 462.18,430.4 462.30,439.4 462.43,429.5 462.55,430.4 462.68,436.1 462.80,442.1 462.93,454.2 463.05,450.3 463.18,443.5 463.30,441.4 463.43,444.7 463.55,445.7 463.68,449.5 463.80,451.9 463.93,454.8 464.05,457.6 464.18,455.5 464.30,455.2 464.43,468.8 464.55,464.8 464.68,472.6 464.80,478.5 464.93,473.1 465.05,462.0 465.18,485.0 465.30,492.1 465.43,472.0 465.55,452.8 465.68,452.0 465.80,480.9 465.93,476.3 466.05,484.2 466.18,483.2 466.30,472.1 466.43,467.6 466.55,469.8 466.68,456.2 466.80,454.8 466.93,455.8 467.05,458.4 467.18,458.8 467.30,456.0 467.43,450.9 467.55,447.7 467.68,443.8 467.80,445.0 467.93,445.5 468.05,444.2 468.18,443.0 468.30,442.8 468.43,440.1 468.55,438.2 468.68,436.1 468.80,439.4 468.93,437.9 469.05,438.9 469.18,429.5 469.30,428.8 469.43,431.8 469.55,442.9 469.68,433.6 469.80,431.3 469.93,436.0 470.05,419.6 470.18,418.0 470.30,412.7 470.43,418.1 470.55,420.5 470.68,419.9 470.80,436.5 470.93,411.3 471.05,406.3 471.18,430.4 471.30,419.8 471.43,419.8 471.55,420.4 471.68,433.2 471.80,423.6 471.93,422.4 472.05,430.9 472.18,435.5 472.30,443.4 472.43,443.3 472.55,435.7 472.68,431.6 472.80,438.9 472.93,438.6 473.05,439.3 473.18,438.9 473.30,440.2 473.43,446.0 473.55,448.4 473.68,448.9 473.80,445.9 473.93,447.3 474.05,448.3 474.18,449.9 474.30,451.0 474.43,452.1 474.55,452.6 474.68,453.9 474.80,455.9 474.93,455.6 475.05,457.5 475.18,457.8 475.30,454.6 475.43,455.0 475.55,458.1 475.68,458.9 475.80,458.7 475.93,456.2 476.05,457.3 476.18,467.6 476.30,466.3 476.43,466.7 476.55,472.5 476.68,470.0 476.80,470.3 476.93,473.4 477.05,464.3 477.18,471.3 477.30,477.1 477.43,479.4 477.55,466.8 477.68,478.6 477.80,478.8 477.93,480.4 478.05,479.2 478.18,487.5 478.30,481.7 478.43,488.4 478.55,488.6 478.68,492.6 478.80,462.9 478.93,463.3 479.05,476.3 479.18,487.4 479.30,495.0 479.43,491.5 479.55,488.8 479.68,483.0 479.80,463.2 479.93,470.8 480.05,466.0 480.18,462.6 480.30,459.3 480.43,453.8 480.55,456.0 480.68,453.6 480.80,449.0 480.93,446.2 481.05,450.5 481.18,448.7 481.30,452.0 481.43,442.3 481.55,444.7 481.68,440.3 481.80,452.8 481.93,436.8 482.05,445.2 482.18,437.6 482.30,435.7 482.43,442.8 482.55,441.6 482.68,448.9 482.80,442.0 482.93,440.7 483.05,435.8 483.18,445.6 483.30,432.9 483.43,443.3 483.55,453.5 483.68,444.0 483.80,444.4 483.93,438.5 484.05,441.6 484.18,443.0 484.30,445.7 484.43,449.9 484.55,450.2 484.68,451.3 484.80,454.6 484.93,456.9 485.05,457.8 485.18,462.9 485.30,469.0 485.43,468.8 485.55,470.9 485.68,481.8 485.80,474.4 485.93,488.3 486.05,490.4 486.18,471.9 486.30,489.7 486.43,494.9 486.55,487.1 486.68,486.7 486.80,459.1 486.93,456.6 487.05,476.9 487.18,459.1 487.30,467.5 487.43,466.4 487.55,461.9 487.68,458.8 487.80,453.8 487.93,451.0 488.05,449.6 488.18,447.9 488.30,446.9 488.43,446.1 488.55,443.1 488.68,441.8 488.80,440.7 488.93,442.2 489.05,440.1 489.18,445.8 489.30,436.7 489.43,432.3 489.55,430.6 489.68,439.6 489.80,425.9 489.93,429.1 490.05,429.9 490.18,423.3 490.30,426.2 490.43,430.9 490.55,429.5 490.68,431.0 490.80,440.1 490.93,436.8 491.05,436.7 491.18,438.8 491.30,433.2 491.43,434.1 491.55,439.4 491.68,444.6 491.80,440.5 491.93,440.5 492.05,441.0 492.18,443.9 492.30,443.8 492.43,445.8 492.55,448.2 492.68,450.7 492.80,450.4 492.93,458.7 493.05,458.3 493.18,460.5 493.30,469.5 493.43,463.4 493.55,472.4 493.68,470.1 493.80,472.0 493.93,469.2 494.05,460.2 494.18,451.2 494.30,453.9 494.43,451.2 494.55,450.1 494.68,445.4 494.80,443.0 494.93,442.4 495.05,434.7 495.18,433.3 495.30,427.3 495.43,423.2 495.55,425.9 495.68,409.0 495.80,419.5 495.93,416.9 496.05,430.8 496.18,427.2 496.30,413.7 496.43,423.2 496.55,425.9 496.68,422.2 496.80,434.6 496.93,432.9 497.05,442.5 497.18,431.1 497.30,434.9 497.43,448.3 497.55,448.8 497.68,454.0 497.80,451.0 497.93,459.5 498.05,460.1 498.18,454.4 498.30,461.1 498.43,460.1 498.55,463.4 498.68,465.6 498.80,467.0 498.93,470.3 499.05,472.4 499.18,471.0 499.30,472.3 499.43,479.0 499.55,478.7 499.68,480.7 499.80,477.1 499.93,474.5 500.05,480.2 500.18,476.4 500.30,476.2 500.43,480.4 500.55,480.8 500.68,478.5 500.80,484.0 500.93,482.4 501.05,479.9 501.18,483.3 501.30,485.6 501.43,486.1 501.55,480.1 501.68,485.8 501.80,479.0 501.93,482.6 502.05,475.1 502.18,478.9 502.30,494.7 502.43,495.3 502.55,487.7 502.68,492.1 502.80,500.9 502.93,490.2 503.05,501.6 503.18,493.3 503.30,496.0 503.43,505.9 503.55,500.5 503.68,492.4 503.80,501.0 503.93,499.7 504.05,494.1 504.18,492.9 504.30,490.1 504.43,485.9 504.55,483.8 504.68,481.0 504.80,477.0 504.93,475.7 505.05,471.3 505.18,469.3 505.30,469.1 505.43,468.7 505.55,475.5 505.68,477.1 505.80,477.1 505.93,476.1 506.05,471.2 506.18,466.5 506.30,467.5 506.43,477.4 506.55,471.2 506.68,465.2 506.80,465.1 506.93,472.8 507.05,472.3 507.18,471.0 507.30,472.7 507.43,475.7 507.55,476.6 507.68,478.3 507.80,479.1 507.93,481.1 508.05,480.9 508.18,483.5 508.30,482.6 508.43,483.8 508.55,485.1 508.68,481.0 508.80,491.4 508.93,482.8 509.05,493.0 509.18,491.5 509.30,496.5 509.43,492.4 509.55,496.4 509.68,500.0 509.80,481.1 509.93,478.2 510.05,494.0 510.18,494.1 510.30,490.3 510.43,483.3 510.55,481.3 510.68,479.3 510.80,476.5 510.93,480.4 511.05,475.6 511.18,474.3 511.30,472.5 511.43,470.2 511.55,466.0 511.68,469.5 511.80,467.2 511.93,461.8 512.05,456.3 512.17,454.3 512.30,457.1 512.42,454.1 512.55,455.0 512.67,442.2 512.80,450.6 512.92,462.1 513.05,457.6 513.17,451.5 513.30,459.5 513.42,467.9 513.55,450.9 513.67,452.7 513.80,457.7 513.92,467.9 514.05,461.1 514.17,464.3 514.30,460.2 514.42,462.2 514.55,467.8 514.67,465.3 514.80,468.6 514.92,469.5 515.05,471.5 515.17,473.2 515.30,475.9 515.42,477.6 515.55,479.2 515.67,480.4 515.80,482.9 515.92,482.4 516.05,485.7 516.17,484.6 516.30,485.0 516.42,486.5 516.55,484.8 516.67,490.6 516.80,488.3 516.92,488.6 517.05,475.9 517.17,484.2 517.30,494.6 517.42,480.4 517.55,497.6 517.67,497.8 517.80,495.6 517.92,493.1 518.05,493.1 518.17,492.8 518.30,500.4 518.42,489.0 518.55,492.0 518.67,485.6 518.80,477.1 518.92,499.4 519.05,481.1 519.17,499.7 519.30,499.2 519.42,493.0 519.55,497.1 519.67,494.5 519.80,490.8 519.92,488.2 520.05,484.8 520.17,482.9 520.30,483.1 520.42,479.1 520.55,477.5 520.67,476.0 520.80,474.0 520.92,471.6 521.05,473.5 521.17,470.9 521.30,465.3 521.42,470.6 521.55,473.5 521.67,459.1 521.80,459.9 521.92,461.9 522.05,452.1 522.17,449.6 522.30,455.0 522.42,445.8 522.55,442.9 522.67,449.0 522.80,440.3 522.92,438.3 523.05,443.7 523.17,441.8 523.30,446.3 523.42,432.4 523.55,449.4 523.67,464.1 523.80,465.2 523.92,449.7 524.05,456.8 524.17,459.2 524.30,464.9 524.42,465.9 524.55,470.3 524.67,473.1 524.80,477.1 524.92,480.8 525.05,485.1 525.17,480.2 525.30,485.6 525.42,486.2 525.55,493.7 525.67,490.7 525.80,486.2 525.92,483.3 526.05,475.4 526.17,477.3 526.30,478.4 526.42,475.4 526.55,468.2 526.67,468.3 526.80,468.4 526.92,466.3 527.05,463.6 527.17,464.0 527.30,465.3 527.42,464.9 527.55,454.3 527.67,457.5 527.80,458.2 527.92,462.4 528.05,461.7 528.17,463.0 528.30,465.3 528.42,467.8 528.55,469.2 528.67,471.4 528.80,473.1 528.92,473.8 529.05,475.3 529.17,479.0 529.30,482.5 529.42,479.2 529.55,478.5 529.67,477.5 529.80,475.0 529.92,474.7 530.05,475.9 530.17,475.0 530.30,475.0 530.42,473.9 530.55,472.6 530.67,474.0 530.80,470.2 530.92,471.1 531.05,472.0 531.17,473.8 531.30,473.8 531.42,470.7 531.55,473.9 531.67,475.0 531.80,474.1 531.92,472.9 532.05,474.8 532.17,476.1 532.30,478.1 532.42,478.1 532.55,473.9 532.67,474.3 532.80,481.7 532.92,477.6 533.05,476.2 533.17,478.6 533.30,477.8 533.42,484.0 533.55,484.5 533.67,478.5 533.80,482.5 533.92,486.0 534.05,480.4 534.17,479.1 534.30,481.5 534.42,479.9 534.55,483.4 534.67,478.4 534.80,480.0 534.92,482.4 535.05,479.8 535.17,480.8 535.30,484.9 535.42,485.3 535.55,486.5 535.67,488.5 535.80,489.8 535.92,491.6 536.05,492.7 536.17,495.7 536.30,497.8 536.42,496.4 536.55,494.7 536.67,497.5 536.80,502.3 536.92,509.7 537.05,515.3 537.17,501.8 537.30,499.6 537.42,522.8 537.55,498.3 537.67,503.2 537.80,516.4 537.92,513.4 538.05,514.4 538.17,522.1 538.30,513.0 538.42,513.7 538.55,503.0 538.67,512.8 538.80,514.8 538.92,510.6 539.05,504.1 539.17,507.7 539.30,502.0 539.42,495.7 539.55,498.5 539.67,494.6 539.80,495.9 539.92,493.0 540.05,492.1 540.17,493.5 540.30,491.1 540.42,490.1 540.55,487.3 540.67,484.7 540.80,481.5 540.92,481.0 541.05,476.8 541.17,477.4 541.30,481.5 541.42,481.7 541.55,473.1 541.67,468.4 541.80,471.6 541.92,478.0 542.05,473.2 542.17,473.2 542.30,479.6 542.42,475.5 542.55,476.4 542.67,477.6 542.80,481.2 542.92,480.0 543.05,480.0 543.17,480.5 543.30,480.8 543.42,481.2 543.55,481.0 543.67,480.2 543.80,482.1 543.92,483.0 544.05,482.8 544.17,484.6 544.30,477.8 544.42,481.2 544.55,480.0 544.67,486.0 544.80,485.3 544.92,478.9 545.05,482.4 545.17,474.3 545.30,478.4 545.42,472.3 545.55,475.9 545.67,475.2 545.80,473.9 545.92,473.6 546.05,472.1 546.17,469.0 546.30,468.3 546.42,467.5 546.55,466.0 546.67,464.9 546.80,464.0 546.92,462.1 547.05,460.3 547.17,459.3 547.30,455.8 547.42,454.4 547.55,453.3 547.67,449.1 547.80,448.9 547.92,445.1 548.05,447.2 548.17,440.2 548.30,443.3 548.42,445.7 548.55,448.3 548.67,447.6 548.80,443.4 548.92,450.5 549.05,452.0 549.17,452.5 549.30,452.7 549.42,455.8 549.55,459.3 549.67,460.9 549.80,460.3 549.92,466.8 550.05,466.5 550.17,468.5 550.30,469.0 550.42,469.8 550.55,463.8 550.67,465.2 550.80,461.4 550.92,456.8 551.05,455.4 551.17,458.0 551.30,454.6 551.42,454.5 551.55,452.4 551.67,451.3 551.80,448.7 551.92,447.7 552.05,444.1 552.17,438.7 552.30,439.9 552.42,431.5 552.55,431.5 552.67,441.5 552.80,437.7 552.92,436.4 553.05,431.9 553.17,430.2 553.30,421.9 553.42,416.1 553.55,425.2 553.67,434.2 553.80,427.3 553.92,435.4 554.05,435.5 554.17,439.7 554.30,440.7 554.42,443.5 554.55,447.2 554.67,448.9 554.80,445.4 554.92,448.6 555.05,446.2 555.17,452.2 555.30,450.9 555.42,453.4 555.55,454.9 555.67,455.9 555.80,455.0 555.92,451.9 556.05,458.7 556.17,454.0 556.30,452.6 556.42,451.4 556.55,452.6 556.67,451.4 556.80,450.6 556.92,447.0 557.05,443.1 557.17,440.1 557.30,436.9 557.42,431.7 557.55,427.3 557.67,430.3 557.80,421.9 557.92,420.3 558.05,411.0 558.17,414.7 558.30,414.1 558.42,419.2 558.55,425.9 558.67,423.2 558.80,429.5 558.92,427.6 559.05,436.9 559.17,435.1 559.30,436.2 559.42,437.7 559.55,440.9 559.67,443.4 559.80,445.1 559.92,447.0 560.05,450.9 560.17,450.8 560.30,452.8 560.42,456.5 560.55,460.1 560.67,451.0 560.80,468.1 560.92,458.7 561.05,472.5 561.17,470.2 561.30,464.1 561.42,462.8 561.55,453.0 561.67,451.2 561.80,457.8 561.92,454.0 562.05,456.1 562.17,451.0 562.30,452.1 562.42,449.8 562.55,448.8 562.67,446.9 562.80,445.8 562.92,440.9 563.05,437.2 563.17,437.7 563.30,437.4 563.42,426.2 563.55,430.0 563.67,421.5 563.80,429.1 563.92,414.3 564.05,437.5 564.17,437.5 564.30,444.4 564.42,442.4 564.55,434.0 564.67,439.7 564.80,442.3 564.92,447.4 565.05,451.2 565.17,455.0 565.30,458.8 565.42,462.4 565.55,464.0 565.67,463.3 565.80,466.5 565.92,468.2 566.05,469.6 566.17,471.6 566.30,465.0 566.42,463.8 566.55,464.9 566.67,476.9 566.80,475.5 566.92,479.9 567.05,476.4 567.17,472.8 567.30,472.4 567.42,475.3 567.55,468.6 567.67,469.3 567.80,470.1 567.92,467.8 568.05,465.6 568.17,463.4 568.30,461.8 568.42,459.9 568.55,457.2 568.67,456.4 568.80,455.1 568.92,456.9 569.05,466.4 569.17,467.4 569.30,467.3 569.42,461.6 569.55,464.2 569.67,468.8 569.80,469.8 569.92,471.2 570.05,473.6 570.17,475.4 570.30,477.0 570.42,478.5 570.55,479.7 570.67,480.4 570.80,482.2 570.92,483.7 571.05,483.7 571.17,487.6 571.30,488.7 571.42,489.4 571.55,487.6 571.67,483.8 571.80,481.5 571.92,480.1 572.05,480.1 572.17,479.3 572.30,477.8 572.42,477.2 572.55,475.2 572.67,475.2 572.80,475.2 572.92,470.9 573.05,468.4 573.17,471.4 573.30,474.2 573.42,478.1 573.55,479.9 573.67,479.8 573.80,489.2 573.92,490.3 574.05,499.8 574.17,502.2 574.30,500.8 574.42,489.8 574.55,503.3 574.67,498.7 574.80,509.6 574.92,505.7 575.05,495.7 575.17,497.3 575.30,500.7 575.42,490.3 575.55,497.8 575.67,498.3 575.80,495.6 575.92,496.6 576.05,490.8 576.17,485.3 576.30,485.2 576.42,486.1 576.55,484.8 576.67,483.8 576.80,482.9 576.92,481.9 577.05,480.0 577.17,480.5 577.30,475.2 577.42,475.3 577.55,471.2 577.67,471.1 577.80,452.4 577.92,457.5 578.05,466.9 578.17,450.6 578.30,457.7 578.42,457.8 578.55,467.8 578.67,468.7 578.80,457.4 578.92,456.4 579.05,460.0 579.17,467.0 579.30,465.3 579.42,473.2 579.55,462.1 579.67,467.7 579.80,479.3 579.92,481.5 580.05,479.2 580.17,484.2 580.30,487.1 580.42,491.4 580.55,487.1 580.67,487.7 580.80,502.5 580.92,502.3 581.05,501.4 581.17,507.9 581.30,508.8 581.42,503.3 581.55,497.7 581.67,493.9 581.80,484.3 581.92,488.4 582.05,496.0 582.17,491.3 582.30,489.6 582.42,490.5 582.55,480.9 582.67,486.8 582.80,487.9 582.92,490.0 583.05,492.3 583.17,489.0 583.30,494.9 583.42,486.4 583.55,495.2 583.67,497.1 583.80,499.8 583.92,487.8 584.05,490.5 584.17,495.6 584.30,496.1 584.42,488.2 584.55,491.6 584.67,496.7 584.80,490.1 584.92,479.8 585.05,484.0 585.17,484.5 585.30,482.8 585.42,480.7 585.55,476.5 585.67,474.7 585.80,472.6 585.92,470.4 586.05,468.9 586.17,468.2 586.30,464.9 586.42,464.9 586.55,460.4 586.67,463.3 586.80,460.8 586.92,453.1 587.05,459.2 587.17,452.9 587.30,456.6 587.42,456.9 587.55,450.4 587.67,457.9 587.80,461.8 587.92,464.3 588.05,455.6 588.17,456.2 588.30,452.8 588.42,454.9 588.55,441.6 588.67,451.0 588.80,446.2 588.92,454.9 589.05,440.1 589.17,448.8 589.30,456.6 589.42,442.0 589.55,442.5 589.67,443.7 589.80,436.0 589.92,464.5 590.05,464.9 590.17,464.6 590.30,453.4 590.42,442.9 590.55,446.9 590.67,444.2 590.80,449.7 590.92,452.6 591.05,456.5 591.17,457.6 591.30,460.9 591.42,463.2 591.55,466.5 591.67,469.3 591.80,470.9 591.92,472.1 592.05,469.6 592.17,473.3 592.30,471.6 592.42,476.4 592.55,476.6 592.67,478.6 592.80,477.2 592.92,479.6 593.05,476.4 593.17,479.7 593.30,478.4 593.42,482.8 593.55,485.0 593.67,481.9 593.80,487.2 593.92,498.3 594.05,486.3 594.17,503.6 594.30,506.3 594.42,521.7 594.55,509.0 594.67,500.0 594.80,511.0 594.92,491.9 595.05,471.4 595.17,493.7 595.30,470.2 595.42,488.3 595.55,474.4 595.67,481.8 595.80,479.6 595.92,477.6 596.05,472.8 596.17,470.4 596.30,468.8 596.42,468.5 596.55,471.0 596.67,470.6 596.80,467.2 596.92,467.9 597.05,468.8 597.17,468.4 597.30,467.3 597.42,467.0 597.55,466.3 597.67,465.5 597.80,465.2 597.92,464.8 598.05,465.2 598.17,464.0 598.30,461.6 598.42,463.9 598.55,458.6 598.67,455.3 598.80,453.7 598.92,462.2 599.05,451.6 599.17,453.7 599.30,451.4 599.42,440.8 599.55,454.1 599.67,446.6 599.80,438.4 599.92,449.1 600.05,428.1 600.17,427.7 600.30,431.4 600.42,440.2 600.55,430.8 600.67,447.7 600.80,442.1 600.92,442.6 601.05,438.3 601.17,447.4 601.30,444.4 601.42,440.7 601.55,440.8 601.67,450.4 601.80,447.9 601.92,453.1 602.05,451.3 602.17,457.1 602.30,455.9 602.42,456.6 602.55,456.5 602.67,457.1 602.80,457.0 602.92,457.6 603.05,457.6 603.17,457.9 603.30,458.2 603.42,458.3 603.55,458.7 603.67,458.7 603.80,458.0 603.92,459.7 604.05,460.1 604.17,460.3 604.30,457.0 604.42,461.7 604.55,461.1 604.67,462.6 604.80,462.3 604.92,459.7 605.05,458.9 605.17,464.3 605.30,466.3 605.42,466.6 605.55,463.1 605.67,461.3 605.80,456.0 605.92,464.6 606.05,469.9 606.17,471.7 606.30,475.1 606.42,474.8 606.55,472.6 606.67,478.1 606.80,474.3 606.92,459.8 607.05,458.9 607.17,467.2 607.30,473.2 607.42,464.9 607.55,463.2 607.67,461.0 607.80,463.6 607.92,469.3 608.05,465.9 608.17,463.5 608.30,462.3 608.42,470.5 608.55,466.5 608.67,469.0 608.80,468.7 608.92,467.5 609.05,464.8 609.17,462.0 609.30,461.1 609.42,458.8 609.55,454.6 609.67,452.3 609.80,447.2 609.92,448.0 610.05,450.3 610.17,451.3 610.30,438.7 610.42,437.7 610.55,431.0 610.67,443.1 610.80,427.3 610.92,424.4 611.05,418.1 611.17,422.4 611.30,426.6 611.42,442.0 611.55,449.6 611.67,434.4 611.80,440.1 611.92,446.8 612.05,439.3 612.17,444.6 612.30,447.6 612.42,460.9 612.55,462.0 612.67,457.5 612.80,457.0 612.92,461.3 613.05,463.5 613.17,463.7 613.30,466.2 613.42,470.3 613.55,474.0 613.67,475.5 613.80,482.1 613.92,484.1 614.05,480.7 614.17,471.0 614.30,482.3 614.42,484.7 614.55,483.4 614.67,466.4 614.80,485.8 614.92,485.1 615.05,477.9 615.17,480.2 615.30,474.4 615.42,474.6 615.55,469.1 615.67,469.3 615.80,470.4 615.92,465.8 616.05,459.7 616.17,462.9 616.30,461.3 616.42,461.4 616.55,459.8 616.67,464.6 616.80,461.4 616.92,468.1 617.05,464.8 617.17,469.5 617.30,469.4 617.42,473.1 617.55,462.3 617.67,475.3 617.80,473.5 617.92,478.7 618.05,457.5 618.17,463.2 618.30,467.4 618.42,473.5 618.55,469.8 618.67,463.4 618.80,460.5 618.92,458.8 619.05,457.7 619.17,455.3 619.30,452.0 619.42,450.4 619.55,446.5 619.67,446.7 619.80,447.2 619.92,443.8 620.05,444.8 620.17,441.5 620.30,439.4 620.42,436.6 620.55,433.4 620.67,439.2 620.80,430.1 620.92,433.8 621.05,430.5 621.17,432.0 621.30,430.7 621.42,424.8 621.55,425.7 621.67,420.5 621.80,420.0 621.92,417.4 622.05,419.3 622.17,422.4 622.30,422.0 622.42,428.2 622.55,423.7 622.67,431.7 622.80,418.1 622.92,417.9 623.05,435.2 623.17,433.1 623.30,434.1 623.42,425.8 623.55,425.1 623.67,425.5 623.80,418.8 623.92,418.7 624.05,421.1 624.17,425.7 624.30,428.9 624.42,429.3 624.55,431.4 624.67,432.8 624.80,435.2 624.92,433.5 625.05,435.7 625.17,432.5 625.30,439.4 625.42,440.6 625.55,448.5 625.67,445.8 625.80,452.2 625.92,439.6 626.05,437.6 626.17,446.4 626.30,456.5 626.42,444.8 626.55,446.7 626.67,439.4 626.80,447.0 626.92,444.0 627.05,440.0 627.17,438.5 627.30,436.3 627.42,436.2 627.55,436.1 627.67,432.2 627.80,432.0 627.92,434.6 628.05,431.4 628.17,435.3 628.30,432.0 628.42,429.6 628.55,425.9 628.67,425.0 628.80,424.1 628.92,424.0 629.05,416.5 629.17,432.0 629.30,435.7 629.42,435.6 629.55,434.3 629.67,432.8 629.80,429.7 629.92,413.1 630.05,415.9 630.17,418.6 630.30,422.7 630.42,427.0 630.55,434.3 630.67,440.3 630.80,440.0 630.92,442.6 631.05,443.7 631.17,446.7 631.30,449.5 631.42,448.9 631.55,458.0 631.67,448.5 631.80,448.3 631.92,463.1 632.05,462.0 632.17,475.0 632.30,462.3 632.42,478.0 632.55,456.1 632.67,469.9 632.80,473.9 632.92,465.0 633.05,461.9 633.17,461.3 633.30,452.3 633.42,452.8 633.55,455.5 633.67,452.8 633.80,450.8 633.92,447.5 634.05,445.6 634.17,444.1 634.30,441.5 634.42,441.3 634.55,438.5 634.67,435.0 634.80,430.8 634.92,431.3 635.05,439.3 635.17,432.5 635.30,436.1 635.42,437.4 635.55,441.0 635.67,446.8 635.80,449.2 635.92,451.7 636.05,454.3 636.17,459.2 636.30,462.7 636.42,461.7 636.55,459.3 636.67,459.1 636.80,466.3 636.92,463.9 637.05,459.0 637.17,458.8 637.30,458.3 637.42,454.5 637.55,449.0 637.67,445.9 637.80,439.4 637.92,447.9 638.05,443.9 638.17,454.0 638.30,449.8 638.42,449.0 638.55,449.7 638.67,455.9 638.80,456.2 638.92,458.5 639.05,459.2 639.17,460.3 639.30,461.4 639.42,461.3 639.55,460.1 639.67,459.1 639.80,458.3 639.92,457.7 640.05,454.8 640.17,457.7 640.30,453.0 640.42,455.6 640.55,455.9 640.67,457.3 640.80,461.5 640.92,447.6 641.05,452.5 641.17,462.4 641.30,459.0 641.42,463.3 641.55,466.3 641.67,469.7 641.80,473.3 641.92,477.6 642.05,479.3 642.17,482.3 642.30,490.6 642.42,494.4 642.55,482.5 642.67,498.9 642.80,492.2 642.92,495.0 643.05,485.3 643.17,480.8 643.30,480.8 643.42,480.0 643.55,479.2 643.67,476.0 643.80,475.4 643.92,472.1 644.05,473.0 644.17,466.6 644.30,468.4 644.42,475.8 644.55,477.2 644.67,480.7 644.80,483.1 644.92,489.5 645.05,490.9 645.17,498.3 645.30,496.9 645.42,496.6 645.55,498.9 645.67,504.8 645.80,509.1 645.92,513.4 646.05,502.6 646.17,505.5 646.30,491.9 646.42,499.3 646.55,488.2 646.67,493.9 646.80,492.8 646.92,491.9 647.05,490.4 647.17,487.5 647.30,485.7 647.42,485.6 647.55,485.6 647.67,485.5 647.80,485.3 647.92,482.2 648.05,480.1 648.17,482.3 648.30,482.3 648.42,481.3 648.55,480.8 648.67,476.5 648.80,477.9 648.92,476.1 649.05,474.6 649.17,474.4 649.30,475.3 649.42,475.6 649.55,478.1 649.67,474.9 649.80,475.9 649.92,477.4 650.05,477.3 650.17,477.0 650.30,477.0 650.42,476.9 650.55,477.0 650.67,478.0 650.80,478.9 650.92,477.7 651.05,479.5 651.17,478.0 651.30,480.8 651.42,481.6 651.55,483.8 651.67,483.7 651.80,488.5 651.92,490.1 652.05,490.2 652.17,486.9 652.30,487.5 652.42,474.0 652.55,479.9 652.67,494.5 652.80,488.4 652.92,487.1 653.05,486.8 653.17,475.9 653.30,470.8 653.42,473.9 653.55,469.0 653.67,465.3 653.80,460.4 653.92,456.6 654.05,453.3 654.17,452.5 654.30,462.3 654.42,461.7 654.55,461.5 654.67,461.8 654.80,462.1 654.92,438.5 655.05,445.3 655.17,447.1 655.30,442.6 655.42,455.4 655.55,447.1 655.67,453.4 655.80,451.9 655.92,451.8 656.05,450.3 656.17,451.0 656.30,456.7 656.42,455.0 656.55,456.9 656.67,458.6 656.80,461.7 656.92,458.4 657.05,459.0 657.17,460.1 657.30,460.9 657.42,461.7 657.55,462.3 657.67,462.3 657.80,461.8 657.92,460.2 658.05,458.8 658.17,457.0 658.30,455.4 658.42,454.3 658.55,451.6 658.67,451.6 658.80,448.2 658.92,447.0 659.05,443.8 659.17,442.9 659.30,448.5 659.42,452.6 659.55,454.4 659.67,463.8 659.80,461.9 659.92,465.9 660.05,484.9 660.17,490.9 660.30,495.7 660.42,473.1 660.55,460.0 660.67,458.2 660.80,470.3 660.92,465.2 661.05,469.9 661.17,470.6 661.30,461.2 661.42,465.2 661.55,460.5 661.67,456.6 661.80,454.4 661.92,451.3 662.05,450.5 662.17,446.1 662.30,440.8 662.42,442.0 662.55,440.4 662.67,449.5 662.80,453.3 662.92,448.7 663.05,453.7 663.17,452.4 663.30,431.2 663.42,433.8 663.55,429.8 663.67,430.7 663.80,446.0 663.92,443.2 664.05,436.2 664.17,446.7 664.30,436.2 664.42,435.5 664.55,450.7 664.67,449.1 664.80,450.8 664.92,454.9 665.05,452.1 665.17,459.8 665.30,461.5 665.42,462.3 665.55,465.3 665.67,466.0 665.80,464.4 665.92,463.9 666.05,462.2 666.17,462.4 666.30,460.1 666.42,458.7 666.55,456.5 666.67,458.8 666.80,455.4 666.92,455.4 667.05,455.9 667.17,452.8 667.30,458.4 667.42,458.9 667.55,461.9 667.67,463.4 667.80,466.3 667.92,468.0 668.05,469.7 668.17,470.7 668.30,472.1 668.42,477.8 668.55,476.8 668.67,481.4 668.80,479.1 668.92,483.7 669.05,490.7 669.17,479.9 669.30,486.8 669.42,492.2 669.55,493.9 669.67,496.5 669.80,495.2 669.92,492.0 670.05,495.3 670.17,499.8 670.30,492.5 670.42,499.1 670.55,497.5 670.67,490.2 670.80,494.4 670.92,489.9 671.05,487.9 671.17,491.9 671.30,486.0 671.42,486.4 671.55,484.6 671.67,482.3 671.80,480.2 671.92,478.3 672.05,479.6 672.17,476.4 672.30,477.6 672.42,478.9 672.55,481.0 672.67,482.6 672.80,484.0 672.92,486.0 673.05,487.8 673.17,489.8 673.30,490.7 673.42,491.0 673.55,494.8 673.67,497.0 673.80,489.8 673.92,490.9 674.05,489.9 674.17,499.8 674.30,496.2 674.42,496.9 674.55,507.5 674.67,505.2 674.80,498.4 674.92,515.5 675.05,514.9 675.17,505.4 675.30,518.5 675.42,512.9 675.55,498.6 675.67,496.1 675.80,503.4 675.92,499.7 676.05,493.9 676.17,488.8 676.30,485.0 676.42,482.0 676.55,478.8 676.67,478.0 676.80,471.9 676.92,466.4 677.05,463.8 677.17,463.0 677.30,454.4 677.42,462.9 677.55,458.9 677.67,461.1 677.80,466.7 677.92,467.0 678.05,468.4 678.17,470.4 678.30,472.3 678.42,473.5 678.55,475.7 678.67,477.7 678.80,479.8 678.92,483.2 679.05,485.0 679.17,485.7 679.30,481.4 679.42,478.8 679.55,480.1 679.67,478.9 679.80,476.7 679.92,475.7 680.05,474.2 680.17,473.0 680.30,471.4 680.42,470.6 680.55,473.2 680.67,470.3 680.80,466.4 680.92,462.8 681.05,466.7 681.17,458.1 681.30,459.6 681.42,458.3 681.55,456.0 681.67,459.2 681.80,461.1 681.92,453.3 682.05,457.8 682.17,451.0 682.30,449.5 682.42,453.2 682.55,450.6 682.67,457.8 682.80,443.3 682.92,448.9 683.05,451.7 683.17,452.8 683.30,455.2 683.42,456.5 683.55,463.6 683.67,462.2 683.80,462.4 683.92,466.7 684.05,471.6 684.17,473.7 684.30,473.5 684.42,474.6 684.55,475.5 684.67,476.7 684.80,477.3 684.92,478.6 685.05,481.3 685.17,478.7 685.30,476.6 685.42,477.1 685.55,479.3 685.67,483.3 685.80,484.1 685.92,490.0 686.05,484.8 686.17,482.1 686.30,486.1 686.42,481.2 686.55,486.1 686.67,484.6 686.80,484.3 686.92,483.6 687.05,483.4 687.17,483.0 687.30,482.2 687.42,481.5 687.55,480.7 687.67,479.9 687.80,481.6 687.92,482.9 688.05,484.4 688.17,486.1 688.30,487.4 688.42,488.5 688.55,490.3 688.67,491.3 688.80,492.4 688.92,490.3 689.05,493.3 689.17,494.6 689.30,498.0 689.42,495.5 689.55,493.0 689.67,489.8 689.80,489.5 689.92,487.4 690.05,485.4 690.17,483.0 690.30,481.8 690.42,480.4 690.55,477.6 690.67,474.1 690.80,479.7 690.92,481.7 691.05,485.7 691.17,490.0 691.30,492.8 691.42,498.7 691.55,496.3 691.67,504.6 691.80,504.3 691.92,509.5 692.05,511.7 692.17,515.5 692.30,514.9 692.42,505.5 692.55,507.8 692.67,495.3 692.80,494.1 692.92,485.4 693.05,494.7 693.17,501.6 693.30,493.5 693.42,495.1 693.55,488.0 693.67,483.7 693.80,487.4 693.92,486.8 694.05,484.8 694.17,485.4 694.30,482.5 694.42,481.1 694.55,480.5 694.67,480.1 694.80,476.4 694.92,473.1 695.05,474.2 695.17,480.1 695.30,469.5 695.42,463.7 695.55,461.6 695.67,461.2 695.80,458.8 695.92,461.2 696.05,464.3 696.17,466.3 696.30,467.5 696.42,461.9 696.55,462.9 696.67,469.5 696.80,479.4 696.92,463.9 697.05,460.6 697.17,461.4 697.30,456.0 697.42,459.7 697.55,455.1 697.67,458.7 697.80,464.5 697.92,464.1 698.05,462.1 698.17,462.6 698.30,467.5 698.42,467.7 698.55,469.1 698.67,476.5 698.80,475.0 698.92,475.7 699.05,477.9 699.17,479.4 699.30,478.1 699.42,482.2 699.55,483.5 699.67,483.3 699.80,483.4 699.92,491.7 700.05,488.4 700.17,495.1 700.30,495.2 700.42,487.3 700.55,489.7 700.67,488.8 700.80,496.9 700.92,477.5 701.05,489.4 701.17,491.6 701.30,493.7 701.42,494.2 701.55,497.1 701.67,497.9 701.80,499.5 701.92,488.0 702.05,482.5 702.17,477.4 702.30,484.2 702.42,487.4 702.55,484.0 702.67,481.5 702.80,477.8 702.92,475.8 703.05,473.6 703.17,472.3 703.30,469.7 703.42,463.6 703.55,460.3 703.67,457.2 703.80,456.7 703.92,458.5 704.05,461.4 704.17,464.4 704.30,465.3 704.42,467.2 704.55,474.4 704.67,476.8 704.80,476.1 704.92,475.3 705.05,478.0 705.17,480.1 705.30,478.9 705.42,479.0 705.55,480.2 705.67,480.0 705.80,480.2 705.92,480.0 706.05,479.8 706.17,474.6 706.30,474.6 706.42,475.6 706.55,473.2 706.67,472.1 706.80,469.8 706.92,473.4 707.05,468.0 707.17,465.8 707.30,464.4 707.42,463.1 707.55,465.5 707.67,467.7 707.80,462.8 707.92,457.3 708.05,452.5 708.17,459.9 708.30,460.5 708.42,455.4 708.55,470.4 708.67,459.2 708.80,466.9 708.92,468.9 709.05,473.9 709.17,477.2 709.30,482.4 709.42,487.3 709.55,490.4 709.67,496.6 709.80,500.0 709.92,500.0 710.05,508.3 710.17,499.7 710.30,500.7 710.42,491.7 710.55,489.2 710.67,499.1 710.80,485.6 710.92,496.0 711.05,496.7 711.17,495.2 711.30,487.3 711.42,493.3 711.55,490.9 711.67,486.8 711.80,477.5 711.92,485.1 712.05,476.5 712.17,474.9 712.30,474.9 712.42,470.6 712.55,472.5 712.67,471.9 712.80,468.1 712.92,467.4 713.05,464.4 713.17,463.5 713.30,464.6 713.42,466.1 713.55,468.8 713.67,467.5 713.80,468.8 713.92,471.0 714.05,473.6 714.17,475.1 714.30,472.9 714.42,472.0 714.55,471.6 714.67,471.9 714.80,474.4 714.92,468.1 715.05,464.3 715.17,463.6 715.30,462.8 715.42,465.1 715.55,463.8 715.67,460.2 715.80,459.0 715.92,453.0 716.05,453.2 716.17,449.6 716.30,449.1 716.42,449.5 716.55,453.7 716.67,438.7 716.80,431.6 716.92,441.0 717.05,426.4 717.17,427.6 717.30,417.5 717.42,432.8 717.55,431.5 717.67,412.6 717.80,418.4 717.92,439.9 718.05,435.7 718.17,424.8 718.30,417.5 718.42,422.6 718.55,428.3 718.67,427.1 718.80,432.9 718.92,438.6 719.05,438.9 719.17,432.9 719.30,443.6 719.42,440.8 719.55,447.3 719.67,450.7 719.80,447.9 719.92,451.7 720.05,454.0 720.17,455.0 720.30,455.8 720.42,455.0 720.55,453.6 720.67,455.6 720.80,454.3 720.92,454.6 721.05,453.4 721.17,453.2 721.30,453.1 721.42,452.2 721.55,451.1 721.67,451.2 721.80,452.5 721.92,450.9 722.05,451.4 722.17,464.7 722.30,469.6 722.42,468.5 722.55,459.8 722.67,458.7 722.80,462.5 722.92,482.4 723.05,495.7 723.17,494.1 723.30,484.0 723.42,473.6 723.55,479.4 723.67,489.3 723.80,488.2 723.92,465.7 724.05,468.6 724.17,458.1 724.30,465.8 724.42,460.7 724.55,458.6 724.67,455.8 724.80,449.1 724.92,445.8 725.05,439.9 725.17,438.7 725.30,448.4 725.42,455.3 725.55,451.9 725.67,445.3 725.80,446.6 725.92,449.2 726.05,451.6 726.17,455.0 726.30,454.3 726.42,455.1 726.55,456.9 726.67,457.7 726.80,456.0 726.92,454.8 727.05,457.8 727.17,457.7 727.30,452.3 727.42,456.4 727.55,457.9 727.67,444.1 727.80,453.5 727.92,460.1 728.05,461.8 728.17,459.3 728.30,455.5 728.42,453.2 728.55,446.8 728.67,450.9 728.80,460.5 728.92,457.0 729.05,467.0 729.17,457.4 729.30,458.8 729.42,464.5 729.55,466.8 729.67,465.7 729.80,466.9 729.92,468.0 730.05,467.7 730.17,469.2 730.30,466.8 730.42,469.6 730.55,470.6 730.67,468.4 730.80,475.0 730.92,467.7 731.05,476.3 731.17,481.2 731.30,479.5 731.42,481.0 731.55,477.4 731.67,483.8 731.80,481.2 731.92,489.0 732.05,483.3 732.17,483.6 732.30,488.2 732.42,481.3 732.55,486.5 732.67,479.6 732.80,485.7 732.92,488.1 733.05,473.7 733.17,471.3 733.30,473.9 733.42,478.9 733.55,483.4 733.67,484.4 733.80,483.3 733.92,479.4 734.05,479.3 734.17,483.2 734.30,478.7 734.42,481.2 734.55,478.7 734.67,475.5 734.80,474.5 734.92,470.9 735.05,468.5 735.17,466.2 735.30,468.0 735.42,464.0 735.55,461.7 735.67,453.2 735.80,455.9 735.92,463.3 736.05,459.6 736.17,449.1 736.30,443.2 736.42,455.6 736.55,441.6 736.67,444.6 736.80,444.1 736.92,448.5 737.05,449.7 737.17,469.0 737.30,468.1 737.42,453.9 737.55,457.9 737.67,460.5 737.80,457.7 737.92,466.6 738.05,459.1 738.17,464.0 738.30,467.1 738.42,461.0 738.55,465.2 738.67,462.3 738.80,468.2 738.92,464.0 739.05,464.6 739.17,467.3 739.30,467.8 739.42,467.7 739.55,467.7 739.67,468.5 739.80,468.8 739.92,469.8 740.05,471.1 740.17,471.2 740.30,471.6 740.42,470.4 740.55,470.5 740.67,469.9 740.80,469.0 740.92,469.1 741.05,469.6 741.17,470.0 741.30,469.5 741.42,467.2 741.55,467.1 741.67,470.6 741.80,473.2 741.92,478.1 742.05,483.9 742.17,478.3 742.30,488.9 742.42,504.8 742.55,507.5 742.67,502.7 742.80,506.4 742.92,497.6 743.05,497.9 743.17,502.4 743.30,499.9 743.42,494.5 743.55,492.4 743.67,490.6 743.80,486.4 743.92,476.9 744.05,472.4 744.17,471.5 744.30,473.4 744.42,472.1 744.55,474.1 744.67,475.6 744.80,476.3 744.92,476.9 745.05,477.1 745.17,477.1 745.30,475.2 745.42,479.4 745.55,482.6 745.67,469.2 745.80,470.7 745.92,485.8 746.05,478.4 746.17,477.9 746.30,480.4 746.42,472.4 746.55,466.4 746.67,472.3 746.80,470.9 746.92,470.7 747.05,469.0 747.17,462.2 747.30,463.7 747.42,461.4 747.55,460.0 747.67,458.5 747.80,456.9 747.92,454.8 748.05,454.1 748.17,451.1 748.30,449.0 748.42,447.6 748.55,446.1 748.67,447.2 748.80,448.2 748.92,443.4 749.05,440.2 749.17,436.3 749.30,435.4 749.42,436.7 749.55,434.3 749.67,432.1 749.80,427.4 749.92,425.5 750.05,429.2 750.17,423.7 750.30,431.4 750.42,420.6 750.55,419.0 750.67,416.7 750.80,416.9 750.92,422.7 751.05,428.0 751.17,420.4 751.30,417.0 751.42,427.5 751.55,416.4 751.67,433.2 751.80,416.3 751.92,423.3 752.05,424.5 752.17,429.1 752.30,433.9 752.42,428.9 752.55,436.5 752.67,433.7 752.80,432.1 752.92,434.8 753.05,437.7 753.17,439.5 753.30,438.8 753.42,439.2 753.55,451.1 753.67,456.5 753.80,447.2 753.92,456.4 754.05,452.1 754.17,446.0 754.30,443.3 754.42,440.3 754.55,449.7 754.67,448.4 754.80,444.1 754.92,441.1 755.05,440.2 755.17,438.9 755.30,436.3 755.42,438.5 755.55,434.2 755.67,434.6 755.80,429.7 755.92,431.2 756.05,426.9 756.17,424.9 756.30,434.1 756.42,429.8 756.55,437.6 756.67,437.7 756.80,436.7 756.92,439.8 757.05,446.2 757.17,443.3 757.30,445.5 757.42,447.9 757.55,449.1 757.67,450.8 757.80,451.1 757.92,451.1 758.05,450.7 758.17,450.6 758.30,450.6 758.42,449.8 758.55,451.3 758.67,449.5 758.80,450.7 758.92,448.6 759.05,448.3 759.17,448.8 759.30,448.7 759.42,448.0 759.55,450.5 759.67,452.0 759.80,455.2 759.92,458.1 760.05,459.1 760.17,462.1 760.30,462.8 760.42,455.2 760.55,461.8 760.67,470.7 760.80,474.3 760.92,469.7 761.05,470.5 761.17,464.9 761.30,475.4 761.42,490.3 761.55,454.6 761.67,478.9 761.80,486.0 761.92,473.6 762.05,476.6 762.17,458.4 762.30,458.9 762.42,465.1 762.55,456.3 762.67,459.9 762.80,458.3 762.92,460.3 763.05,454.2 763.17,452.5 763.30,452.6 763.42,451.8 763.55,451.9 763.67,448.5 763.80,451.2 763.92,441.9 764.05,444.6 764.17,439.6 764.30,437.7 764.42,434.1 764.55,431.5 764.67,447.1 764.80,433.1 764.92,428.7 765.05,429.8 765.17,430.2 765.30,435.1 765.42,424.7 765.55,427.6 765.67,424.1 765.80,427.7 765.92,442.5 766.05,439.4 766.17,444.4 766.30,440.9 766.42,440.4 766.55,441.2 766.67,440.2 766.80,438.8 766.92,446.9 767.05,443.4 767.17,448.9 767.30,445.8 767.42,452.5 767.55,451.5 767.67,452.1 767.80,454.8 767.92,455.2 768.05,457.1 768.17,458.8 768.30,460.1 768.42,462.0 768.55,460.5 768.67,463.4 768.80,459.6 768.92,461.1 769.05,463.5 769.17,461.7 769.30,461.5 769.42,461.9 769.55,463.5 769.67,466.6 769.80,466.7 769.92,466.6 770.05,464.2 770.17,459.5 770.30,461.1 770.42,460.4 770.55,469.1 770.67,460.9 770.80,472.3 770.92,462.1 771.05,466.5 771.17,472.7 771.30,469.7 771.42,469.2 771.55,482.7 771.67,476.7 771.80,481.4 771.92,486.0 772.05,485.5 772.17,483.1 772.30,485.5 772.42,491.8 772.55,484.2 772.67,490.8 772.80,489.3 772.92,490.6 773.05,483.3 773.17,487.2 773.30,480.5 773.42,479.8 773.55,475.1 773.67,474.0 773.80,473.0 773.92,470.9 774.05,467.6 774.17,465.4 774.30,463.8 774.42,462.3 774.55,464.8 774.67,466.2 774.80,455.8 774.92,452.2 775.05,460.2 775.17,465.1 775.30,462.4 775.42,468.0 775.55,461.1 775.67,459.1 775.80,455.8 775.92,468.9 776.05,460.8 776.17,467.0 776.30,457.7 776.42,458.7 776.55,461.4 776.67,461.6 776.80,464.1 776.92,463.2 777.05,466.6 777.17,468.9 777.30,470.0 777.42,472.7 777.55,471.8 777.67,474.1 777.80,475.9 777.92,478.0 778.05,480.2 778.17,477.4 778.30,482.4 778.42,485.8 778.55,485.0 778.67,482.7 778.80,492.8 778.92,488.5 779.05,488.6 779.17,479.2 779.30,496.2 779.42,501.4 779.55,494.3 779.67,503.0 779.80,489.2 779.92,489.0 780.05,494.2 780.17,489.5 780.30,494.4 780.42,484.6 780.55,489.3 780.67,481.7 780.80,477.6 780.92,481.2 781.05,477.4 781.17,475.9 781.30,473.5 781.42,474.5 781.55,474.7 781.67,473.1 781.80,470.2 781.92,466.5 782.05,465.3 782.17,458.8 782.30,453.3 782.42,462.5 782.55,460.0 782.67,452.9 782.80,473.4 782.92,472.3 783.05,470.7 783.17,464.7 783.30,469.9 783.42,473.7 783.55,478.5 783.67,482.9 783.80,481.6 783.92,485.4 784.05,490.7 784.17,494.1 784.30,499.1 784.42,488.7 784.55,488.5 784.67,501.2 784.80,496.9 784.92,493.2 785.05,488.4 785.17,489.2 785.30,486.5 785.42,482.2 785.55,485.0 785.67,479.7 785.80,479.4 785.92,476.6 786.05,475.1 786.17,473.8 786.30,472.4 786.42,473.6 786.55,471.9 786.67,470.2 786.80,468.0 786.92,466.0 787.05,467.9 787.17,468.5 787.30,462.7 787.42,462.5 787.55,460.8 787.67,464.6 787.80,467.0 787.92,469.9 788.05,472.8 788.17,476.1 788.30,474.3 788.42,480.6 788.55,486.1 788.67,480.0 788.80,487.3 788.92,486.4 789.05,477.2 789.17,477.2 789.30,476.0 789.42,475.3 789.55,472.8 789.67,469.5 789.80,467.2 789.92,465.9 790.05,463.5 790.17,461.9 790.30,457.7 790.42,461.5 790.55,461.0 790.67,459.0 790.80,460.5 790.92,462.6 791.05,461.5 791.17,464.5 791.30,464.2 791.42,466.2 791.55,458.7 791.67,462.0 791.80,471.3 791.92,472.4 792.05,476.5 792.17,470.5 792.30,465.8 792.42,469.5 792.55,466.2 792.67,462.9 792.80,460.6 792.92,459.3 793.05,454.3 793.17,455.3 793.30,453.3 793.42,451.8 793.55,450.0 793.67,449.5 793.80,446.6 793.92,443.3 794.05,443.6 794.17,442.3 794.30,441.9 794.42,448.5 794.55,444.7 794.67,442.9 794.80,434.9 794.92,435.1 795.05,429.8 795.17,437.1 795.30,441.7 795.42,440.3 795.55,429.9 795.67,427.2 795.80,439.5 795.92,443.1 796.05,443.0 796.17,418.5 796.30,442.1 796.42,424.9 796.55,431.4 796.67,440.9 796.80,439.3 796.92,431.8 797.05,434.6 797.17,433.1 797.30,443.0 797.42,444.0 797.55,435.4 797.67,439.1 797.80,440.7 797.92,443.9 798.05,443.8 798.17,444.4 798.30,444.6 798.42,446.3 798.55,446.3 798.67,448.0 798.80,448.9 798.92,450.1 799.05,450.6 799.17,450.5 799.30,448.8 799.42,450.5 799.55,454.3 799.67,450.9 799.80,449.0 799.92,450.4 800.05,451.6 800.17,449.9 800.30,450.0 800.42,449.5 800.55,449.0 800.67,447.9 800.80,447.1 800.92,448.3 801.05,445.9 801.17,447.2 801.30,452.1 801.42,453.9 801.55,455.6 801.67,459.6 801.80,458.0 801.92,465.7 802.05,468.8 802.17,467.5 802.30,463.6 802.42,467.6 802.55,465.9 802.67,477.7 802.80,472.9 802.92,468.5 803.05,466.4 803.17,468.4 803.30,466.7 803.42,467.2 803.55,466.5 803.67,467.0 803.80,465.8 803.92,464.2 804.05,462.8 804.17,460.4 804.30,458.3 804.42,460.6 804.55,459.4 804.67,453.4 804.80,453.1 804.92,452.5 805.05,454.2 805.17,456.9 805.30,458.0 805.42,458.8 805.55,463.0 805.67,465.0 805.80,464.9 805.92,467.4 806.05,467.3 806.17,470.1 806.30,472.0 806.42,472.9 806.55,474.5 806.67,475.5 806.80,477.7 806.92,479.3 807.05,477.5 807.17,478.5 807.30,478.0 807.42,477.9 807.55,477.5 807.67,477.4 807.80,477.4 807.92,477.3 808.05,476.3 808.17,476.0 808.30,475.4 808.42,475.2 808.55,478.1 808.67,476.9 808.80,476.3 808.92,474.0 809.05,476.4 809.17,477.2 809.30,480.9 809.42,482.3 809.55,481.7 809.67,494.0 809.80,501.2 809.92,493.9 810.05,508.1 810.17,491.3 810.30,500.3 810.42,483.2 810.55,500.9 810.67,488.9 810.80,482.8 810.92,492.7 811.05,494.1 811.17,490.5 811.30,487.2 811.42,484.2 811.55,484.9 811.67,483.6 811.80,480.4 811.92,478.8 812.05,479.6 812.17,479.1 812.30,478.5 812.42,477.0 812.55,482.5 812.67,481.1 812.80,476.5 812.92,488.3 813.05,481.1 813.17,484.2 813.30,476.1 813.42,476.0 813.55,475.4 813.67,475.8 813.80,479.8 813.92,490.2 814.05,484.2 814.17,482.8 814.30,476.5 814.42,472.1 814.55,475.4 814.67,474.3 814.80,477.0 814.92,475.0 815.05,471.4 815.17,471.5 815.30,469.7 815.42,468.5 815.55,467.8 815.67,466.9 815.80,465.3 815.92,465.8 816.05,464.1 816.17,460.3 816.30,452.5 816.42,454.8 816.55,463.6 816.67,447.6 816.80,447.3 816.92,449.5 817.05,443.8 817.17,440.6 817.30,439.7 817.42,454.8 817.55,450.9 817.67,445.7 817.80,437.2 817.92,443.1 818.05,440.1 818.17,441.7 818.30,436.1 818.42,437.2 818.55,445.8 818.67,452.3 818.80,453.4 818.92,453.9 819.05,452.9 819.17,452.0 819.30,457.8 819.42,450.6 819.55,448.5 819.67,454.9 819.80,455.5 819.92,457.4 820.05,457.4 820.17,457.5 820.30,458.6 820.42,459.1 820.55,459.6 820.67,465.0 820.80,466.4 820.92,461.0 821.05,470.1 821.17,458.3 821.30,457.7 821.42,466.2 821.55,460.7 821.67,468.7 821.80,476.4 821.92,476.3 822.05,466.9 822.17,473.1 822.30,481.5 822.42,473.0 822.55,482.4 822.67,473.8 822.80,480.8 822.92,469.6 823.05,469.2 823.17,466.9 823.30,468.2 823.42,464.4 823.55,475.2 823.67,468.3 823.80,468.1 823.92,463.5 824.05,461.1 824.17,457.7 824.30,455.7 824.42,456.1 824.55,448.6 824.67,447.6 824.80,446.3 824.92,436.0 825.05,432.8 825.17,438.6 825.30,459.7 825.42,459.9 825.55,439.4 825.67,449.4 825.80,461.2 825.92,457.8 826.05,458.6 826.17,447.7 826.30,448.5 826.42,454.1 826.55,449.2 826.67,454.3 826.80,459.3 826.92,453.6 827.05,458.6 827.17,461.2 827.30,459.7 827.42,459.7 827.55,461.8 827.67,464.5 827.80,466.0 827.92,466.4 828.05,467.2 828.17,468.4 828.30,467.6 828.42,468.5 828.55,472.3 828.67,472.8 828.80,474.6 828.92,477.0 829.05,477.9 829.17,476.4 829.30,478.9 829.42,482.7 829.55,478.3 829.67,475.9 829.80,472.0 829.92,470.1 830.05,475.8 830.17,466.8 830.30,471.3 830.42,464.6 830.55,471.2 830.67,471.2 830.80,469.9 830.92,466.2 831.05,467.1 831.17,466.3 831.30,465.2 831.42,465.6 831.55,464.1 831.67,466.8 831.80,465.7 831.92,467.5 832.05,469.1 832.17,470.4 832.30,471.0 832.42,472.6 832.55,474.9 832.67,478.4 832.80,472.7 832.92,473.3 833.05,475.8 833.17,480.7 833.30,482.9 833.42,484.1 833.55,480.4 833.67,478.1 833.80,474.7 833.92,473.2 834.05,469.8 834.17,467.0 834.30,465.2 834.42,461.8 834.55,459.5 834.67,461.2 834.80,468.3 834.92,456.0 835.05,459.2 835.17,446.8 835.30,453.6 835.42,440.6 835.55,442.7 835.67,457.1 835.80,451.2 835.92,456.0 836.05,467.2 836.17,464.6 836.30,470.2 836.42,476.3 836.55,478.5 836.67,481.9 836.80,485.4 836.92,488.3 837.05,488.9 837.17,487.7 837.30,485.2 837.42,486.5 837.55,487.7 837.67,484.4 837.80,486.0 837.92,484.6 838.05,486.3 838.17,486.2 838.30,484.3 838.42,484.8 838.55,485.0 838.67,484.7 838.80,483.5 838.92,483.1 839.05,483.1 839.17,484.1 839.30,484.1 839.42,485.0 839.55,487.3 839.67,487.3 839.80,490.8 839.92,493.5 840.05,495.4 840.17,489.8 840.30,484.7 840.42,494.6 840.55,502.2 840.67,508.0 840.80,505.9 840.92,488.1 841.05,502.9 841.17,500.4 841.30,507.4 841.42,502.6 841.55,504.2 841.67,495.3 841.80,493.0 841.92,486.9 842.05,491.6 842.17,482.7 842.30,486.1 842.42,482.8 842.55,480.8 842.67,476.7 842.80,476.5 842.92,478.7 843.05,479.2 843.17,478.0 843.30,480.7 843.42,482.9 843.55,482.0 843.67,482.2 843.80,482.5 843.92,482.2 844.05,482.9 844.17,482.6 844.30,483.2 844.42,483.2 844.55,480.9 844.67,478.6 844.80,476.3 844.92,476.4 845.05,475.7 845.17,469.5 845.30,471.9 845.42,471.4 845.55,469.3 845.67,471.8 845.80,461.8 845.92,469.6 846.05,452.3 846.17,457.8 846.30,451.6 846.42,458.1 846.55,464.8 846.67,450.3 846.80,449.6 846.92,454.5 847.05,458.7 847.17,462.2 847.30,462.1 847.42,465.6 847.55,475.4 847.67,474.5 847.80,476.3 847.92,479.8 848.05,478.4 848.17,484.1 848.30,492.2 848.42,500.8 848.55,505.4 848.67,506.5 848.80,515.8 848.92,492.6 849.05,507.1" stroke="#4434a8" stroke-width="0.4" opacity="1"/><polyline points="326.3,454.8 327.4,468.7 329.5,472.0 330.6,483.7 331.6,511.6 333.8,466.6 334.9,475.1 337.0,511.6 339.1,468.7 340.9,483.7 342.4,466.6 343.4,417.3 345.1,438.7 346.0,475.1 347.7,449.4 349.4,468.7 350.9,485.9 353.1,524.4 354.1,485.9 356.3,496.6 357.4,524.4 359.5,468.7 361.6,498.7 363.4,435.5 364.9,468.7 367.0,483.7 369.1,488.0 371.3,520.1 373.4,464.4 375.6,460.1 377.3,440.9 378.8,466.6 380.9,492.3 383.1,468.7 385.2,462.3 387.4,483.7 389.5,434.4 391.0,449.4 392.3,421.6 393.8,451.6 394.9,479.4 396.4,526.6 398.0,488.0 399.7,466.6 401.2,481.6 403.4,423.7 405.5,407.6 407.0,477.3 408.7,447.3 410.4,425.9 411.9,453.7 414.1,509.4 415.1,475.1 416.9,490.1 418.8,443.0 420.5,488.0 422.6,468.7 424.1,453.7 425.9,425.9 427.6,458.0 429.1,492.3 430.1,440.9 431.6,406.6 433.4,462.3 435.5,468.7 437.6,479.4 438.7,518.0 440.9,483.7 443.0,440.9 445.1,462.3 446.9,436.6 448.4,416.2 450.5,462.3 452.6,443.0 455.4,406.6 456.9,492.3 459.1,462.3 462.3,421.6 463.4,440.9 465.5,498.7 467.6,451.6 470.9,402.3 473.0,436.6 475.7,466.6 477.2,477.3 479.4,500.9 480.4,451.6 483.0,421.6 484.7,451.6 486.4,505.1 487.9,451.6 490.1,421.6 492.2,440.9 493.7,481.6 495.9,400.1 497.6,440.9 499.3,479.4 501.4,488.0 503.6,509.4 505.1,468.7 506.6,460.1 508.3,488.0 510.0,503.0 512.6,440.9 514.3,458.0 515.8,483.7 519.0,509.4 520.7,475.1 523.3,428.0 525.4,498.7 527.6,451.6 529.3,483.7 530.8,468.7 532.9,473.0 535.1,479.4 536.1,494.4 537.6,530.4 539.4,509.4 541.5,466.6 543.0,479.4 544.7,488.0 546.9,462.3 548.6,432.3 550.1,475.1 551.7,451.6 553.2,408.7 554.7,451.6 556.4,464.4 558.1,408.7 559.6,440.9 561.1,475.1 562.9,440.9 563.9,410.9 565.4,462.3 567.1,483.7 568.9,449.4 570.4,479.4 571.4,490.1 573.1,466.6 574.6,520.1 576.8,481.6 577.9,447.3 579.6,462.3 581.1,515.8 582.6,488.0 584.3,505.1 586.0,468.7 587.5,440.9 590.3,433.4 591.8,473.0 593.5,488.0 594.4,527.6 596.1,475.1 598.2,462.3 600.4,421.6 602.5,455.9 604.6,462.3 606.8,479.4 608.9,468.7 611.1,415.1 612.6,451.6 614.3,496.6 616.4,462.3 618.1,481.6 619.6,445.1 621.8,417.3 623.9,417.3 626.1,462.3 627.7,430.1 629.9,407.6 631.4,453.7 632.4,483.7 635.0,423.7 636.7,475.1 637.8,436.6 639.3,462.3 641.0,445.1 642.7,505.1 644.2,464.4 645.7,518.0 647.4,483.7 649.1,473.0 650.6,477.3 652.8,498.7 654.5,432.3 656.0,449.4 657.7,464.4 659.2,440.9 660.3,498.7 662.4,436.6 664.1,425.9 665.6,466.6 667.1,449.4 668.9,490.1 670.6,505.1 672.1,473.0 673.6,496.6 675.3,521.2 677.4,449.4 679.1,488.0 681.3,455.9 682.8,440.9 684.3,473.0 686.0,492.3 687.7,479.4 689.2,500.9 690.7,473.0 692.0,520.1 693.5,498.7 695.6,458.0 697.8,453.7 699.9,494.4 702.1,500.9 703.7,453.7 705.2,479.4 706.7,470.9 708.4,447.3 710.1,513.7 711.6,492.3 713.1,464.4 714.9,483.7 717.4,407.6 718.7,419.4 720.2,458.0 721.7,451.6 723.4,507.3 725.1,436.6 726.6,455.9 728.1,438.7 729.9,468.7 732.0,490.1 734.1,492.3 736.3,436.6 738.4,458.0 740.1,470.9 741.6,466.6 742.7,522.3 744.4,473.0 745.9,488.0 748.1,451.6 750.9,410.9 752.4,417.3 753.9,464.4 756.0,421.6 757.7,451.6 759.4,447.3 761.6,494.4 763.1,458.0 765.2,411.9 766.7,436.6 768.4,462.3 770.6,470.9 772.7,498.7 774.9,447.3 777.0,462.3 778.0,479.4 779.7,509.4 781.2,475.1 782.7,445.1 784.4,511.6 786.1,473.0 787.6,460.1 788.7,492.3 790.4,453.7 791.9,479.4 794.1,438.7 796.2,416.2 797.7,436.6 799.4,455.9 801.1,445.1 802.6,485.9 804.8,449.4 806.9,479.4 809.1,473.0 810.1,513.7 811.9,479.4 813.4,498.7 815.5,466.6 817.6,428.0 819.1,440.9 820.9,468.7 823.0,492.3 825.1,430.1 827.3,458.0 829.4,483.7 831.6,462.3 833.3,488.0 835.4,436.6 836.9,490.1 839.1,483.7 841.2,518.0 842.7,475.1 844.4,483.7 846.6,440.9 847.6,468.7 849.1,527.6" stroke="#5a4ab8" stroke-width="0.8" opacity="0.75"/></g>
<g font-size="9.5" font-weight="bold" fill="#6a6a6a">
<text x="855.2" y="441.8" textLength="39.6" lengthAdjust="spacingAndGlyphs">RSI = 70</text>
<text x="855.2" y="508.4" textLength="39.6" lengthAdjust="spacingAndGlyphs">RSI = 30</text>
</g>
<!-- axis -->
<line x1="326.5" y1="555.7" x2="529" y2="555.7" stroke="#333" stroke-width="1.4"/>
<line x1="547" y1="555.7" x2="860" y2="555.7" stroke="#333" stroke-width="1.4"/>
<g font-size="8.5" fill="#4a4a4a" text-anchor="middle">
<text x="326.1" y="567.6" textLength="36.6" lengthAdjust="spacingAndGlyphs">01-Jan-14</text>
<text x="412.7" y="567.6" textLength="36.6" lengthAdjust="spacingAndGlyphs">01-Jan-16</text>
<text x="499.3" y="567.6" textLength="36.6" lengthAdjust="spacingAndGlyphs">01-Jan-18</text>
<text x="585.9" y="567.6" textLength="36.6" lengthAdjust="spacingAndGlyphs">01-Jan-20</text>
<text x="672.5" y="567.6" textLength="36.6" lengthAdjust="spacingAndGlyphs">01-Jan-22</text>
<text x="759.1" y="567.6" textLength="36.6" lengthAdjust="spacingAndGlyphs">01-Jan-24</text>
<text x="845.7" y="567.6" textLength="36.6" lengthAdjust="spacingAndGlyphs">01-Jan-26</text>
</g>
<!-- ellipses -->
<g fill="#56eea3" fill-opacity="0.97" stroke="#17442e" stroke-width="1.5" stroke-dasharray="3,1.8">
<ellipse cx="538.5" cy="537.4" rx="14.2" ry="11.2"/>
<ellipse cx="595.3" cy="527.8" rx="14.2" ry="11.6"/>
<ellipse cx="851" cy="528.2" rx="14.6" ry="11.6"/>
</g>
<g stroke="#3a9c86" stroke-width="1" opacity="0.8"><line x1="538" y1="526.5" x2="538" y2="538"/><line x1="594.6" y1="516.8" x2="594.6" y2="528"/><line x1="849.6" y1="517" x2="849.6" y2="528"/></g>
<g font-size="15.5" font-weight="bold" fill="#1a1a4c" text-anchor="middle">
<text x="538.6" y="563.6">9</text>
<text x="595.3" y="553.6">15</text>
<text x="851.7" y="554.2">15</text>
</g>
<!-- logo -->
<g fill="none" stroke="#1718bf" stroke-width="2.75" stroke-linecap="round" stroke-linejoin="round">
<path d="M653.8 592.2 A10.7 10.7 0 1 0 661.1 603.2"/>
<path d="M637.3 613.1 L640.6 609.9"/>
<path d="M644 603.1 L648.4 598.9 L653.3 604.2 L661.5 595.6"/>
<!-- text -->
<path d="M630 595.2 V606.3"/>
<path d="M605.3 595.2 V606.4"/>
<path d="M612 600.7 Q615.5 606.1 619.5 606.1 Q625.3 606.1 625.3 599.7"/>
<path d="M620 610.7 H625.8"/>
<path d="M608.2 609.8 L612 600.7"/>
<path d="M589.1 599.8 L589.1 602.4 A5.65 4.9 0 0 0 600.4 602.4 L600.4 599.1"/>
<path d="M566.2 609.4 L570.4 601 L574.6 605.2 Q576.5 606.2 579 606.2 Q583.3 606.2 583.3 599.5"/>
<path d="M559.2 604.3 A3.5 3.5 0 1 1 563.9 604.2 L559.8 609.6"/>
<path d="M529 609.6 L533 600.8 L537.2 605.4 L550.4 605.4 Q554 605.4 554 601.6 Q554 597.8 550.4 597.8 L542 597.8 L547.3 592.6"/>
</g>
<g fill="#1718bf">
<path d="M664.2 592.5 L658.3 593.4 L663.5 598 Z"/>
<circle cx="592.4" cy="596.3" r="1.6"/>
<circle cx="583" cy="610.6" r="1.6"/>
</g>
</svg>
</body></html>
